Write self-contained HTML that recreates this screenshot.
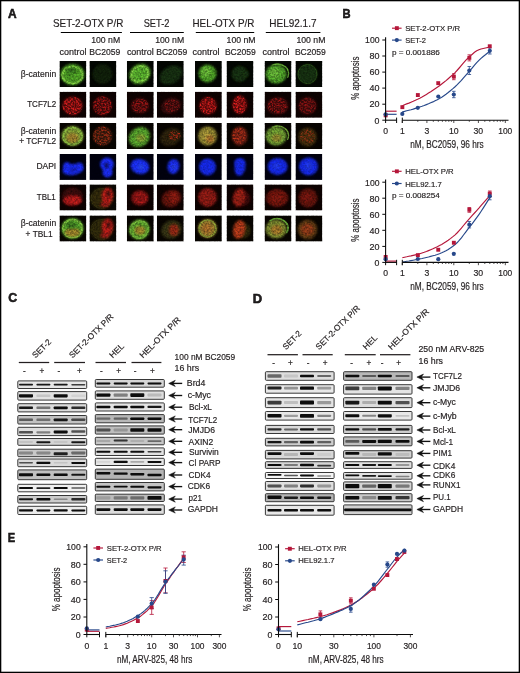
<!DOCTYPE html>
<html><head><meta charset="utf-8"><title>Figure</title>
<style>
html,body{margin:0;padding:0;background:#fff;}
body{width:520px;height:673px;overflow:hidden;font-family:"Liberation Sans",sans-serif;}
svg{display:block;position:absolute;left:0;top:0;font-family:"Liberation Sans",sans-serif;will-change:transform;opacity:0.999;}
svg text{fill:#231f20;stroke:#231f20;stroke-width:0.18px;}
</style></head><body>
<svg width="520" height="673" viewBox="0 0 520 673">
<defs>
<filter id="cb" x="-30%" y="-30%" width="160%" height="160%"><feGaussianBlur stdDeviation="0.9"/></filter>
<filter id="cbs" x="-30%" y="-30%" width="160%" height="160%"><feGaussianBlur stdDeviation="0.55"/></filter>
<filter id="bb" x="-20%" y="-60%" width="140%" height="220%"><feGaussianBlur stdDeviation="0.42"/></filter>
<filter id="bbw" x="-20%" y="-60%" width="140%" height="220%"><feGaussianBlur stdDeviation="0.7"/></filter>
<filter id="sp" x="-30%" y="-30%" width="160%" height="160%"><feGaussianBlur stdDeviation="0.7" result="b"/><feTurbulence type="fractalNoise" baseFrequency="0.6" numOctaves="2" seed="11" result="n"/><feColorMatrix in="n" type="matrix" values="0 0 0 0 1  0 0 0 0 1  0 0 0 0 1  3.6 0 0 0 -1.45" result="a"/><feComposite in="b" in2="a" operator="in"/></filter>
<filter id="gr" x="0" y="0" width="100%" height="100%"><feTurbulence type="fractalNoise" baseFrequency="0.55" numOctaves="2" seed="7"/><feColorMatrix type="matrix" values="0 0 0 0 0  0 0 0 0 0  0 0 0 0 0  1.6 0 0 0 -0.45"/></filter>
</defs>
<rect x="0.5" y="0.5" width="519" height="672" fill="#fff" stroke="#000" stroke-width="1.6"/>
<text x="8.0" y="17.8" font-size="12.5" textLength="8.6" lengthAdjust="spacingAndGlyphs" font-weight="bold" fill="#000" style="stroke:#000;stroke-width:0.5px">A</text>
<text x="53.0" y="27.1" font-size="10.3" textLength="70.3" lengthAdjust="spacingAndGlyphs">SET-2-OTX P/R</text>
<text x="143.7" y="27.1" font-size="10.3" textLength="25.7" lengthAdjust="spacingAndGlyphs">SET-2</text>
<text x="192.5" y="27.1" font-size="10.3" textLength="61.8" lengthAdjust="spacingAndGlyphs">HEL-OTX P/R</text>
<text x="269.3" y="27.1" font-size="10.3" textLength="47.2" lengthAdjust="spacingAndGlyphs">HEL92.1.7</text>
<line x1="60.8" y1="32.5" x2="121.9" y2="32.5" stroke="#000" stroke-width="1.1"/>
<line x1="130.0" y1="32.5" x2="183.8" y2="32.5" stroke="#000" stroke-width="1.1"/>
<line x1="195.8" y1="32.5" x2="254.2" y2="32.5" stroke="#000" stroke-width="1.1"/>
<line x1="265.8" y1="32.5" x2="320.4" y2="32.5" stroke="#000" stroke-width="1.1"/>
<text x="91.2" y="43.3" font-size="8.6" textLength="29.0" lengthAdjust="spacingAndGlyphs">100 nM</text>
<text x="155.2" y="43.3" font-size="8.6" textLength="29.0" lengthAdjust="spacingAndGlyphs">100 nM</text>
<text x="226.6" y="43.3" font-size="8.6" textLength="29.0" lengthAdjust="spacingAndGlyphs">100 nM</text>
<text x="296.4" y="43.3" font-size="8.6" textLength="29.0" lengthAdjust="spacingAndGlyphs">100 nM</text>
<text x="59.6" y="55.0" font-size="8.6" textLength="26.9" lengthAdjust="spacingAndGlyphs">control</text>
<text x="126.9" y="55.0" font-size="8.6" textLength="26.9" lengthAdjust="spacingAndGlyphs">control</text>
<text x="192.6" y="55.0" font-size="8.6" textLength="26.9" lengthAdjust="spacingAndGlyphs">control</text>
<text x="262.6" y="55.0" font-size="8.6" textLength="26.9" lengthAdjust="spacingAndGlyphs">control</text>
<text x="89.3" y="55.0" font-size="8.6" textLength="31.0" lengthAdjust="spacingAndGlyphs">BC2059</text>
<text x="156.2" y="55.0" font-size="8.6" textLength="31.0" lengthAdjust="spacingAndGlyphs">BC2059</text>
<text x="224.9" y="55.0" font-size="8.6" textLength="31.0" lengthAdjust="spacingAndGlyphs">BC2059</text>
<text x="294.9" y="55.0" font-size="8.6" textLength="31.0" lengthAdjust="spacingAndGlyphs">BC2059</text>
<text x="20.8" y="77.2" font-size="8.6" textLength="35.4" lengthAdjust="spacingAndGlyphs">β-catenin</text>
<text x="27.2" y="107.4" font-size="8.6" textLength="29.0" lengthAdjust="spacingAndGlyphs">TCF7L2</text>
<text x="20.8" y="133.7" font-size="8.6" textLength="35.4" lengthAdjust="spacingAndGlyphs">β-catenin</text>
<text x="19.2" y="144.3" font-size="8.6" textLength="37.0" lengthAdjust="spacingAndGlyphs">+ TCF7L2</text>
<text x="36.4" y="169.2" font-size="8.6" textLength="19.8" lengthAdjust="spacingAndGlyphs">DAPI</text>
<text x="36.8" y="200.1" font-size="8.6" textLength="19.0" lengthAdjust="spacingAndGlyphs">TBL1</text>
<text x="20.8" y="226.0" font-size="8.6" textLength="35.4" lengthAdjust="spacingAndGlyphs">β-catenin</text>
<text x="25.6" y="236.5" font-size="8.6" textLength="27.0" lengthAdjust="spacingAndGlyphs">+ TBL1</text>
<g id="tiles">
<clipPath id="tc00"><rect x="59.5" y="61.0" width="26.8" height="26.0"/></clipPath>
<g clip-path="url(#tc00)"><rect x="59.5" y="61.0" width="26.8" height="26.0" fill="#040803"/>
<ellipse cx="72.5" cy="74.5" rx="12" ry="10.5" fill="#58b42c" filter="url(#cb)"/>
<ellipse cx="72.5" cy="75.0" rx="10" ry="8.5" fill="none" stroke="#8be04a" stroke-width="2.2" opacity="0.9" filter="url(#cbs)"/>
<ellipse cx="71.5" cy="70.5" rx="6" ry="3" fill="#3a8020" opacity="0.85" filter="url(#cb)"/>
<rect x="59.5" y="61.0" width="26.8" height="26.0" fill="#040803" filter="url(#gr)" opacity="0.55"/>
</g>
<clipPath id="tc01"><rect x="89.5" y="61.0" width="26.8" height="26.0"/></clipPath>
<g clip-path="url(#tc01)"><rect x="89.5" y="61.0" width="26.8" height="26.0" fill="#040803"/>
<ellipse cx="102.5" cy="74.0" rx="10" ry="10" fill="#152c0c" opacity="0.85" filter="url(#cb)"/>
<rect x="89.5" y="61.0" width="26.8" height="26.0" fill="#040803" filter="url(#gr)" opacity="0.55"/>
</g>
<clipPath id="tc02"><rect x="126.9" y="61.0" width="26.8" height="26.0"/></clipPath>
<g clip-path="url(#tc02)"><rect x="126.9" y="61.0" width="26.8" height="26.0" fill="#040803"/>
<ellipse cx="139.9" cy="74.0" rx="11" ry="9.5" fill="#62c230" transform="rotate(-35 139.9 74.0)" filter="url(#cb)"/>
<ellipse cx="139.9" cy="74.0" rx="9" ry="7.5" fill="none" stroke="#93e650" stroke-width="2" opacity="0.8" transform="rotate(-35 139.9 74.0)" filter="url(#cbs)"/>
<rect x="126.9" y="61.0" width="26.8" height="26.0" fill="#040803" filter="url(#gr)" opacity="0.55"/>
</g>
<clipPath id="tc03"><rect x="156.9" y="61.0" width="26.8" height="26.0"/></clipPath>
<g clip-path="url(#tc03)"><rect x="156.9" y="61.0" width="26.8" height="26.0" fill="#040803"/>
<ellipse cx="170.9" cy="75.0" rx="12" ry="8.5" fill="#1d3a15" opacity="0.9" transform="rotate(-30 170.9 75.0)" filter="url(#cb)"/>
<rect x="156.9" y="61.0" width="26.8" height="26.0" fill="#040803" filter="url(#gr)" opacity="0.55"/>
</g>
<clipPath id="tc04"><rect x="195.0" y="61.0" width="26.8" height="26.0"/></clipPath>
<g clip-path="url(#tc04)"><rect x="195.0" y="61.0" width="26.8" height="26.0" fill="#040803"/>
<ellipse cx="207.5" cy="73.5" rx="9" ry="9" fill="#55b02c" filter="url(#cb)"/>
<ellipse cx="206.0" cy="72.0" rx="5" ry="5" fill="#7ed444" opacity="0.7" filter="url(#cb)"/>
<rect x="195.0" y="61.0" width="26.8" height="26.0" fill="#040803" filter="url(#gr)" opacity="0.55"/>
</g>
<clipPath id="tc05"><rect x="226.6" y="61.0" width="26.8" height="26.0"/></clipPath>
<g clip-path="url(#tc05)"><rect x="226.6" y="61.0" width="26.8" height="26.0" fill="#040803"/>
<ellipse cx="239.6" cy="74.0" rx="8" ry="8" fill="#1d3d12" opacity="0.9" filter="url(#cb)"/>
<ellipse cx="246.6" cy="74.0" rx="2.5" ry="3" fill="#1d3d12" opacity="0.8" filter="url(#cb)"/>
<rect x="226.6" y="61.0" width="26.8" height="26.0" fill="#040803" filter="url(#gr)" opacity="0.55"/>
</g>
<clipPath id="tc06"><rect x="264.6" y="61.0" width="26.8" height="26.0"/></clipPath>
<g clip-path="url(#tc06)"><rect x="264.6" y="61.0" width="26.8" height="26.0" fill="#040803"/>
<ellipse cx="276.1" cy="74.0" rx="10.5" ry="9.5" fill="#58b42e" filter="url(#cb)"/>
<ellipse cx="277.6" cy="73.5" rx="11" ry="9.5" fill="none" stroke="#7ed444" stroke-width="1.3" stroke-dasharray="27 37.6" stroke-dashoffset="-42" opacity="0.85" filter="url(#cbs)"/>
<ellipse cx="274.6" cy="73.0" rx="5" ry="5" fill="#84d84a" opacity="0.6" filter="url(#cb)"/>
<rect x="264.6" y="61.0" width="26.8" height="26.0" fill="#040803" filter="url(#gr)" opacity="0.55"/>
</g>
<clipPath id="tc07"><rect x="295.5" y="61.0" width="26.8" height="26.0"/></clipPath>
<g clip-path="url(#tc07)"><rect x="295.5" y="61.0" width="26.8" height="26.0" fill="#040803"/>
<ellipse cx="307.5" cy="74.0" rx="10" ry="10" fill="#1e3d13" opacity="0.9" filter="url(#cb)"/>
<ellipse cx="307.5" cy="74.0" rx="9.5" ry="9.5" fill="none" stroke="#376a20" stroke-width="1.0" opacity="0.8" filter="url(#cbs)"/>
<rect x="295.5" y="61.0" width="26.8" height="26.0" fill="#040803" filter="url(#gr)" opacity="0.55"/>
</g>
<clipPath id="tc10"><rect x="59.5" y="91.8" width="26.8" height="26.0"/></clipPath>
<g clip-path="url(#tc10)"><rect x="59.5" y="91.8" width="26.8" height="26.0" fill="#100302"/>
<ellipse cx="72.5" cy="105.8" rx="10.5" ry="9.5" fill="#6a0e0e" filter="url(#cb)"/>
<ellipse cx="72.5" cy="105.8" rx="10" ry="9" fill="#f02020" filter="url(#sp)"/>
<rect x="59.5" y="91.8" width="26.8" height="26.0" fill="#100302" filter="url(#gr)" opacity="0.55"/>
</g>
<clipPath id="tc11"><rect x="89.5" y="91.8" width="26.8" height="26.0"/></clipPath>
<g clip-path="url(#tc11)"><rect x="89.5" y="91.8" width="26.8" height="26.0" fill="#100302"/>
<ellipse cx="102.5" cy="105.8" rx="10" ry="10" fill="#480a0a" filter="url(#cb)"/>
<ellipse cx="102.5" cy="105.8" rx="9.5" ry="9.5" fill="#e41e1e" opacity="0.8" filter="url(#sp)"/>
<rect x="89.5" y="91.8" width="26.8" height="26.0" fill="#100302" filter="url(#gr)" opacity="0.55"/>
</g>
<clipPath id="tc12"><rect x="126.9" y="91.8" width="26.8" height="26.0"/></clipPath>
<g clip-path="url(#tc12)"><rect x="126.9" y="91.8" width="26.8" height="26.0" fill="#100302"/>
<ellipse cx="139.9" cy="105.8" rx="9.5" ry="8" fill="#480a0a" filter="url(#cb)"/>
<ellipse cx="140.4" cy="105.8" rx="8.5" ry="7" fill="#dc1c1c" opacity="0.7" filter="url(#sp)"/>
<rect x="126.9" y="91.8" width="26.8" height="26.0" fill="#100302" filter="url(#gr)" opacity="0.55"/>
</g>
<clipPath id="tc13"><rect x="156.9" y="91.8" width="26.8" height="26.0"/></clipPath>
<g clip-path="url(#tc13)"><rect x="156.9" y="91.8" width="26.8" height="26.0" fill="#100302"/>
<ellipse cx="170.9" cy="105.8" rx="10.5" ry="8" fill="#3e0909" transform="rotate(-20 170.9 105.8)" filter="url(#cb)"/>
<ellipse cx="171.9" cy="105.8" rx="8" ry="6.5" fill="#c81a1a" opacity="0.6" filter="url(#sp)"/>
<rect x="156.9" y="91.8" width="26.8" height="26.0" fill="#100302" filter="url(#gr)" opacity="0.55"/>
</g>
<clipPath id="tc14"><rect x="195.0" y="91.8" width="26.8" height="26.0"/></clipPath>
<g clip-path="url(#tc14)"><rect x="195.0" y="91.8" width="26.8" height="26.0" fill="#100302"/>
<ellipse cx="208.0" cy="105.8" rx="9" ry="9" fill="#741010" filter="url(#cb)"/>
<ellipse cx="208.0" cy="105.8" rx="8.5" ry="8.5" fill="#ee2020" filter="url(#sp)"/>
<rect x="195.0" y="91.8" width="26.8" height="26.0" fill="#100302" filter="url(#gr)" opacity="0.55"/>
</g>
<clipPath id="tc15"><rect x="226.6" y="91.8" width="26.8" height="26.0"/></clipPath>
<g clip-path="url(#tc15)"><rect x="226.6" y="91.8" width="26.8" height="26.0" fill="#100302"/>
<ellipse cx="239.6" cy="104.8" rx="7.5" ry="9.5" fill="#741010" filter="url(#cb)"/>
<ellipse cx="239.6" cy="104.8" rx="7" ry="9" fill="#ee2020" filter="url(#sp)"/>
<rect x="226.6" y="91.8" width="26.8" height="26.0" fill="#100302" filter="url(#gr)" opacity="0.55"/>
</g>
<clipPath id="tc16"><rect x="264.6" y="91.8" width="26.8" height="26.0"/></clipPath>
<g clip-path="url(#tc16)"><rect x="264.6" y="91.8" width="26.8" height="26.0" fill="#100302"/>
<ellipse cx="277.6" cy="105.8" rx="11" ry="9" fill="#460a0a" filter="url(#cb)"/>
<ellipse cx="277.6" cy="105.8" rx="10" ry="8" fill="#d81c1c" opacity="0.7" filter="url(#sp)"/>
<rect x="264.6" y="91.8" width="26.8" height="26.0" fill="#100302" filter="url(#gr)" opacity="0.55"/>
</g>
<clipPath id="tc17"><rect x="295.5" y="91.8" width="26.8" height="26.0"/></clipPath>
<g clip-path="url(#tc17)"><rect x="295.5" y="91.8" width="26.8" height="26.0" fill="#100302"/>
<ellipse cx="307.5" cy="105.8" rx="9.5" ry="9" fill="#440a0a" filter="url(#cb)"/>
<ellipse cx="307.5" cy="105.8" rx="8.5" ry="8" fill="#d01b1b" opacity="0.65" filter="url(#sp)"/>
<rect x="295.5" y="91.8" width="26.8" height="26.0" fill="#100302" filter="url(#gr)" opacity="0.55"/>
</g>
<clipPath id="tc20"><rect x="59.5" y="123.0" width="26.8" height="26.0"/></clipPath>
<g clip-path="url(#tc20)"><rect x="59.5" y="123.0" width="26.8" height="26.0" fill="#0a0602"/>
<ellipse cx="72.5" cy="136.0" rx="11" ry="10" fill="#8fae3a" filter="url(#cb)"/>
<ellipse cx="72.5" cy="136.0" rx="9.5" ry="8.5" fill="none" stroke="#98d248" stroke-width="2" opacity="0.8" filter="url(#cbs)"/>
<ellipse cx="72.5" cy="138.0" rx="6" ry="5" fill="#c48a30" opacity="0.7" filter="url(#cb)"/>
<rect x="59.5" y="123.0" width="26.8" height="26.0" fill="#0a0602" filter="url(#gr)" opacity="0.55"/>
</g>
<clipPath id="tc21"><rect x="89.5" y="123.0" width="26.8" height="26.0"/></clipPath>
<g clip-path="url(#tc21)"><rect x="89.5" y="123.0" width="26.8" height="26.0" fill="#0a0602"/>
<ellipse cx="102.5" cy="136.0" rx="10" ry="10" fill="#3a1a0b" filter="url(#cb)"/>
<ellipse cx="102.5" cy="136.0" rx="9.5" ry="9.5" fill="#e03c1a" opacity="0.7" filter="url(#sp)"/>
<rect x="89.5" y="123.0" width="26.8" height="26.0" fill="#0a0602" filter="url(#gr)" opacity="0.55"/>
</g>
<clipPath id="tc22"><rect x="126.9" y="123.0" width="26.8" height="26.0"/></clipPath>
<g clip-path="url(#tc22)"><rect x="126.9" y="123.0" width="26.8" height="26.0" fill="#0a0602"/>
<ellipse cx="139.4" cy="137.0" rx="11" ry="9.5" fill="#62b832" transform="rotate(-35 139.4 137.0)" filter="url(#cb)"/>
<ellipse cx="140.9" cy="138.0" rx="5" ry="4" fill="#b4a23a" opacity="0.55" filter="url(#cb)"/>
<rect x="126.9" y="123.0" width="26.8" height="26.0" fill="#0a0602" filter="url(#gr)" opacity="0.55"/>
</g>
<clipPath id="tc23"><rect x="156.9" y="123.0" width="26.8" height="26.0"/></clipPath>
<g clip-path="url(#tc23)"><rect x="156.9" y="123.0" width="26.8" height="26.0" fill="#0a0602"/>
<ellipse cx="170.9" cy="137.0" rx="11" ry="8.5" fill="#33280e" transform="rotate(-25 170.9 137.0)" filter="url(#cb)"/>
<ellipse cx="174.4" cy="135.5" rx="6" ry="5" fill="#d8301c" opacity="0.9" filter="url(#sp)"/>
<rect x="156.9" y="123.0" width="26.8" height="26.0" fill="#0a0602" filter="url(#gr)" opacity="0.55"/>
</g>
<clipPath id="tc24"><rect x="195.0" y="123.0" width="26.8" height="26.0"/></clipPath>
<g clip-path="url(#tc24)"><rect x="195.0" y="123.0" width="26.8" height="26.0" fill="#0a0602"/>
<ellipse cx="207.5" cy="136.0" rx="9.5" ry="9.5" fill="#a69a38" filter="url(#cb)"/>
<ellipse cx="206.0" cy="135.0" rx="5" ry="5" fill="#c8b044" opacity="0.6" filter="url(#cb)"/>
<ellipse cx="210.0" cy="139.0" rx="4" ry="4" fill="#c46a2a" opacity="0.6" filter="url(#cb)"/>
<rect x="195.0" y="123.0" width="26.8" height="26.0" fill="#0a0602" filter="url(#gr)" opacity="0.55"/>
</g>
<clipPath id="tc25"><rect x="226.6" y="123.0" width="26.8" height="26.0"/></clipPath>
<g clip-path="url(#tc25)"><rect x="226.6" y="123.0" width="26.8" height="26.0" fill="#0a0602"/>
<ellipse cx="239.6" cy="136.0" rx="8" ry="9.5" fill="#7a2412" filter="url(#cb)"/>
<ellipse cx="239.1" cy="135.5" rx="7" ry="8.5" fill="#e8401c" opacity="0.65" filter="url(#sp)"/>
<rect x="226.6" y="123.0" width="26.8" height="26.0" fill="#0a0602" filter="url(#gr)" opacity="0.55"/>
</g>
<clipPath id="tc26"><rect x="264.6" y="123.0" width="26.8" height="26.0"/></clipPath>
<g clip-path="url(#tc26)"><rect x="264.6" y="123.0" width="26.8" height="26.0" fill="#0a0602"/>
<ellipse cx="276.1" cy="136.0" rx="10.5" ry="9.5" fill="#7cae38" filter="url(#cb)"/>
<ellipse cx="277.6" cy="135.5" rx="11" ry="9.5" fill="none" stroke="#8ed048" stroke-width="1.3" stroke-dasharray="27 37.6" stroke-dashoffset="-42" opacity="0.85" filter="url(#cbs)"/>
<ellipse cx="276.6" cy="138.0" rx="5" ry="4" fill="#b88a30" opacity="0.6" filter="url(#cb)"/>
<rect x="264.6" y="123.0" width="26.8" height="26.0" fill="#0a0602" filter="url(#gr)" opacity="0.55"/>
</g>
<clipPath id="tc27"><rect x="295.5" y="123.0" width="26.8" height="26.0"/></clipPath>
<g clip-path="url(#tc27)"><rect x="295.5" y="123.0" width="26.8" height="26.0" fill="#0a0602"/>
<ellipse cx="307.5" cy="137.0" rx="9.5" ry="9.5" fill="#46300f" filter="url(#cb)"/>
<ellipse cx="307.5" cy="136.5" rx="7.5" ry="7" fill="#d03a1a" opacity="0.6" filter="url(#sp)"/>
<rect x="295.5" y="123.0" width="26.8" height="26.0" fill="#0a0602" filter="url(#gr)" opacity="0.55"/>
</g>
<clipPath id="tc30"><rect x="59.5" y="153.9" width="26.8" height="26.0"/></clipPath>
<g clip-path="url(#tc30)"><rect x="59.5" y="153.9" width="26.8" height="26.0" fill="#020210"/>
<ellipse cx="73.0" cy="169.4" rx="10.5" ry="5.5" fill="#1a2eff" transform="rotate(-10 73.0 169.4)" filter="url(#cb)"/>
<ellipse cx="67.0" cy="166.4" rx="4" ry="4.5" fill="#1a2eff" opacity="0.95" filter="url(#cb)"/>
<ellipse cx="79.5" cy="166.4" rx="3.5" ry="4" fill="#1a2eff" opacity="0.9" filter="url(#cb)"/>
<ellipse cx="73.5" cy="169.9" rx="4" ry="2" fill="#0c1890" opacity="0.5" filter="url(#cb)"/>
<rect x="59.5" y="153.9" width="26.8" height="26.0" fill="#020210" filter="url(#gr)" opacity="0.3"/>
</g>
<clipPath id="tc31"><rect x="89.5" y="153.9" width="26.8" height="26.0"/></clipPath>
<g clip-path="url(#tc31)"><rect x="89.5" y="153.9" width="26.8" height="26.0" fill="#020210"/>
<ellipse cx="107.0" cy="164.4" rx="6.8" ry="6.8" fill="#1a2eff" filter="url(#cb)"/>
<ellipse cx="107.5" cy="172.4" rx="5" ry="5" fill="#1a2eff" filter="url(#cb)"/>
<ellipse cx="106.5" cy="165.4" rx="2.3" ry="3" fill="#081060" opacity="0.85" filter="url(#cb)"/>
<rect x="89.5" y="153.9" width="26.8" height="26.0" fill="#020210" filter="url(#gr)" opacity="0.3"/>
</g>
<clipPath id="tc32"><rect x="126.9" y="153.9" width="26.8" height="26.0"/></clipPath>
<g clip-path="url(#tc32)"><rect x="126.9" y="153.9" width="26.8" height="26.0" fill="#020210"/>
<ellipse cx="139.9" cy="166.4" rx="9.5" ry="7.5" fill="#1a30ff" transform="rotate(15 139.9 166.4)" filter="url(#cb)"/>
<ellipse cx="140.9" cy="166.9" rx="3" ry="2.5" fill="#3258f4" opacity="0.6" filter="url(#cb)"/>
<rect x="126.9" y="153.9" width="26.8" height="26.0" fill="#020210" filter="url(#gr)" opacity="0.3"/>
</g>
<clipPath id="tc33"><rect x="156.9" y="153.9" width="26.8" height="26.0"/></clipPath>
<g clip-path="url(#tc33)"><rect x="156.9" y="153.9" width="26.8" height="26.0" fill="#020210"/>
<ellipse cx="173.4" cy="166.4" rx="6" ry="7.5" fill="#1a2ef4" transform="rotate(10 173.4 166.4)" filter="url(#cb)"/>
<ellipse cx="173.9" cy="166.9" rx="2.5" ry="3" fill="#3050f0" opacity="0.5" filter="url(#cb)"/>
<rect x="156.9" y="153.9" width="26.8" height="26.0" fill="#020210" filter="url(#gr)" opacity="0.3"/>
</g>
<clipPath id="tc34"><rect x="195.0" y="153.9" width="26.8" height="26.0"/></clipPath>
<g clip-path="url(#tc34)"><rect x="195.0" y="153.9" width="26.8" height="26.0" fill="#020210"/>
<ellipse cx="207.5" cy="166.9" rx="8.5" ry="8.5" fill="#182cf0" filter="url(#cb)"/>
<rect x="195.0" y="153.9" width="26.8" height="26.0" fill="#020210" filter="url(#gr)" opacity="0.3"/>
</g>
<clipPath id="tc35"><rect x="226.6" y="153.9" width="26.8" height="26.0"/></clipPath>
<g clip-path="url(#tc35)"><rect x="226.6" y="153.9" width="26.8" height="26.0" fill="#020210"/>
<ellipse cx="240.1" cy="166.9" rx="5.5" ry="9" fill="#182cf0" transform="rotate(10 240.1 166.9)" filter="url(#cb)"/>
<ellipse cx="238.6" cy="162.9" rx="4.5" ry="4.5" fill="#182cf0" opacity="0.9" filter="url(#cb)"/>
<rect x="226.6" y="153.9" width="26.8" height="26.0" fill="#020210" filter="url(#gr)" opacity="0.3"/>
</g>
<clipPath id="tc36"><rect x="264.6" y="153.9" width="26.8" height="26.0"/></clipPath>
<g clip-path="url(#tc36)"><rect x="264.6" y="153.9" width="26.8" height="26.0" fill="#020210"/>
<ellipse cx="277.6" cy="166.4" rx="10" ry="8.5" fill="#182cf0" filter="url(#cb)"/>
<ellipse cx="276.6" cy="165.9" rx="4" ry="3" fill="#2d4cf0" opacity="0.5" filter="url(#cb)"/>
<rect x="264.6" y="153.9" width="26.8" height="26.0" fill="#020210" filter="url(#gr)" opacity="0.3"/>
</g>
<clipPath id="tc37"><rect x="295.5" y="153.9" width="26.8" height="26.0"/></clipPath>
<g clip-path="url(#tc37)"><rect x="295.5" y="153.9" width="26.8" height="26.0" fill="#020210"/>
<ellipse cx="308.5" cy="166.4" rx="9.5" ry="9" fill="#182cf0" filter="url(#cb)"/>
<ellipse cx="308.5" cy="165.9" rx="4" ry="4" fill="#2d4cf0" opacity="0.5" filter="url(#cb)"/>
<rect x="295.5" y="153.9" width="26.8" height="26.0" fill="#020210" filter="url(#gr)" opacity="0.3"/>
</g>
<clipPath id="tc40"><rect x="59.5" y="184.4" width="26.8" height="26.0"/></clipPath>
<g clip-path="url(#tc40)"><rect x="59.5" y="184.4" width="26.8" height="26.0" fill="#100302"/>
<ellipse cx="72.5" cy="196.4" rx="10.5" ry="9" fill="#420b09" filter="url(#cb)"/>
<ellipse cx="72.5" cy="200.4" rx="9.5" ry="5.2" fill="#c21c1a" filter="url(#cb)"/>
<ellipse cx="76.0" cy="200.4" rx="4" ry="2.3" fill="none" stroke="#e82a22" stroke-width="1.2" opacity="0.7" transform="rotate(-20 76.0 200.4)" filter="url(#cbs)"/>
<rect x="59.5" y="184.4" width="26.8" height="26.0" fill="#100302" filter="url(#gr)" opacity="0.55"/>
</g>
<clipPath id="tc41"><rect x="89.5" y="184.4" width="26.8" height="26.0"/></clipPath>
<g clip-path="url(#tc41)"><rect x="89.5" y="184.4" width="26.8" height="26.0" fill="#0d0a04"/>
<ellipse cx="101.5" cy="198.4" rx="11" ry="10.5" fill="#3a3010" opacity="0.95" filter="url(#cb)"/>
<ellipse cx="101.5" cy="198.4" rx="10.5" ry="10" fill="none" stroke="#4a4a18" stroke-width="0.8" opacity="0.7" filter="url(#cbs)"/>
<ellipse cx="107.5" cy="195.9" rx="5.8" ry="8.5" fill="#cc221c" transform="rotate(5 107.5 195.9)" filter="url(#cb)"/>
<ellipse cx="105.0" cy="204.4" rx="4.5" ry="2.8" fill="#b81e1a" opacity="0.85" filter="url(#cb)"/>
<ellipse cx="108.5" cy="193.9" rx="1.8" ry="3.2" fill="#3a0a08" opacity="0.9" transform="rotate(10 108.5 193.9)" filter="url(#cb)"/>
<rect x="89.5" y="184.4" width="26.8" height="26.0" fill="#0d0a04" filter="url(#gr)" opacity="0.55"/>
</g>
<clipPath id="tc42"><rect x="126.9" y="184.4" width="26.8" height="26.0"/></clipPath>
<g clip-path="url(#tc42)"><rect x="126.9" y="184.4" width="26.8" height="26.0" fill="#100302"/>
<ellipse cx="139.9" cy="197.9" rx="8.6" ry="7.6" fill="#9e1814" filter="url(#cb)"/>
<ellipse cx="140.9" cy="198.4" rx="5" ry="4" fill="none" stroke="#c4241d" stroke-width="1.2" opacity="0.6" filter="url(#cbs)"/>
<rect x="126.9" y="184.4" width="26.8" height="26.0" fill="#100302" filter="url(#gr)" opacity="0.55"/>
</g>
<clipPath id="tc43"><rect x="156.9" y="184.4" width="26.8" height="26.0"/></clipPath>
<g clip-path="url(#tc43)"><rect x="156.9" y="184.4" width="26.8" height="26.0" fill="#100302"/>
<ellipse cx="171.4" cy="198.4" rx="10" ry="8.5" fill="#701410" transform="rotate(-25 171.4 198.4)" filter="url(#cb)"/>
<ellipse cx="173.9" cy="197.4" rx="4.5" ry="5.5" fill="#aa2018" opacity="0.7" filter="url(#cb)"/>
<rect x="156.9" y="184.4" width="26.8" height="26.0" fill="#100302" filter="url(#gr)" opacity="0.55"/>
</g>
<clipPath id="tc44"><rect x="195.0" y="184.4" width="26.8" height="26.0"/></clipPath>
<g clip-path="url(#tc44)"><rect x="195.0" y="184.4" width="26.8" height="26.0" fill="#100302"/>
<ellipse cx="207.5" cy="197.4" rx="9.5" ry="9.5" fill="#971b14" filter="url(#cb)"/>
<ellipse cx="207.0" cy="197.4" rx="5" ry="5" fill="#af2418" opacity="0.5" filter="url(#cb)"/>
<rect x="195.0" y="184.4" width="26.8" height="26.0" fill="#100302" filter="url(#gr)" opacity="0.55"/>
</g>
<clipPath id="tc45"><rect x="226.6" y="184.4" width="26.8" height="26.0"/></clipPath>
<g clip-path="url(#tc45)"><rect x="226.6" y="184.4" width="26.8" height="26.0" fill="#100302"/>
<ellipse cx="241.6" cy="198.4" rx="9" ry="8" fill="#4f0d0a" opacity="0.9" filter="url(#cb)"/>
<ellipse cx="239.1" cy="197.4" rx="6" ry="9.5" fill="#a82016" transform="rotate(12 239.1 197.4)" filter="url(#cb)"/>
<rect x="226.6" y="184.4" width="26.8" height="26.0" fill="#100302" filter="url(#gr)" opacity="0.55"/>
</g>
<clipPath id="tc46"><rect x="264.6" y="184.4" width="26.8" height="26.0"/></clipPath>
<g clip-path="url(#tc46)"><rect x="264.6" y="184.4" width="26.8" height="26.0" fill="#100302"/>
<ellipse cx="277.1" cy="197.9" rx="11" ry="9" fill="#7a1611" filter="url(#cb)"/>
<ellipse cx="276.6" cy="198.4" rx="5" ry="4" fill="#a52216" opacity="0.5" filter="url(#cb)"/>
<rect x="264.6" y="184.4" width="26.8" height="26.0" fill="#100302" filter="url(#gr)" opacity="0.55"/>
</g>
<clipPath id="tc47"><rect x="295.5" y="184.4" width="26.8" height="26.0"/></clipPath>
<g clip-path="url(#tc47)"><rect x="295.5" y="184.4" width="26.8" height="26.0" fill="#100302"/>
<ellipse cx="308.0" cy="197.9" rx="9.5" ry="9.5" fill="#6e140f" filter="url(#cb)"/>
<ellipse cx="307.5" cy="197.4" rx="5" ry="4.5" fill="#9a1e16" opacity="0.5" filter="url(#cb)"/>
<rect x="295.5" y="184.4" width="26.8" height="26.0" fill="#100302" filter="url(#gr)" opacity="0.55"/>
</g>
<clipPath id="tc50"><rect x="59.5" y="215.5" width="26.8" height="26.0"/></clipPath>
<g clip-path="url(#tc50)"><rect x="59.5" y="215.5" width="26.8" height="26.0" fill="#0a0602"/>
<ellipse cx="72.5" cy="228.5" rx="11" ry="10.5" fill="#5cb02e" filter="url(#cb)"/>
<ellipse cx="72.5" cy="228.5" rx="9.5" ry="9" fill="none" stroke="#90dc48" stroke-width="2.2" opacity="0.85" filter="url(#cbs)"/>
<ellipse cx="72.5" cy="232.5" rx="8" ry="4.5" fill="#c08a2e" opacity="0.8" filter="url(#cb)"/>
<ellipse cx="71.5" cy="225.5" rx="5" ry="3.5" fill="#3c7c20" opacity="0.8" filter="url(#cb)"/>
<rect x="59.5" y="215.5" width="26.8" height="26.0" fill="#0a0602" filter="url(#gr)" opacity="0.55"/>
</g>
<clipPath id="tc51"><rect x="89.5" y="215.5" width="26.8" height="26.0"/></clipPath>
<g clip-path="url(#tc51)"><rect x="89.5" y="215.5" width="26.8" height="26.0" fill="#0d0a04"/>
<ellipse cx="101.5" cy="229.5" rx="11" ry="10.5" fill="#38300f" opacity="0.95" filter="url(#cb)"/>
<ellipse cx="101.5" cy="229.5" rx="10.5" ry="10" fill="none" stroke="#4a4a18" stroke-width="0.8" opacity="0.7" filter="url(#cbs)"/>
<ellipse cx="107.5" cy="227.0" rx="5.8" ry="8.5" fill="#cc221c" transform="rotate(5 107.5 227.0)" filter="url(#cb)"/>
<ellipse cx="105.0" cy="235.5" rx="4.5" ry="2.8" fill="#b81e1a" opacity="0.85" filter="url(#cb)"/>
<ellipse cx="108.5" cy="225.0" rx="1.8" ry="3.2" fill="#3a0a08" opacity="0.9" transform="rotate(10 108.5 225.0)" filter="url(#cb)"/>
<rect x="89.5" y="215.5" width="26.8" height="26.0" fill="#0d0a04" filter="url(#gr)" opacity="0.55"/>
</g>
<clipPath id="tc52"><rect x="126.9" y="215.5" width="26.8" height="26.0"/></clipPath>
<g clip-path="url(#tc52)"><rect x="126.9" y="215.5" width="26.8" height="26.0" fill="#0a0602"/>
<ellipse cx="139.4" cy="229.5" rx="10.5" ry="10" fill="#66b432" transform="rotate(-30 139.4 229.5)" filter="url(#cb)"/>
<ellipse cx="139.4" cy="229.5" rx="9" ry="8.5" fill="none" stroke="#8ad846" stroke-width="1.8" opacity="0.8" transform="rotate(-30 139.4 229.5)" filter="url(#cbs)"/>
<ellipse cx="139.9" cy="230.5" rx="5.5" ry="4.5" fill="#c0902e" opacity="0.8" filter="url(#cb)"/>
<rect x="126.9" y="215.5" width="26.8" height="26.0" fill="#0a0602" filter="url(#gr)" opacity="0.55"/>
</g>
<clipPath id="tc53"><rect x="156.9" y="215.5" width="26.8" height="26.0"/></clipPath>
<g clip-path="url(#tc53)"><rect x="156.9" y="215.5" width="26.8" height="26.0" fill="#0a0602"/>
<ellipse cx="171.4" cy="229.5" rx="10.5" ry="9" fill="#3c3a14" transform="rotate(-25 171.4 229.5)" filter="url(#cb)"/>
<ellipse cx="173.9" cy="230.0" rx="5" ry="6" fill="#b42a18" opacity="0.85" filter="url(#cb)"/>
<rect x="156.9" y="215.5" width="26.8" height="26.0" fill="#0a0602" filter="url(#gr)" opacity="0.55"/>
</g>
<clipPath id="tc54"><rect x="195.0" y="215.5" width="26.8" height="26.0"/></clipPath>
<g clip-path="url(#tc54)"><rect x="195.0" y="215.5" width="26.8" height="26.0" fill="#0a0602"/>
<ellipse cx="207.5" cy="228.5" rx="9.5" ry="9.5" fill="#a88a30" filter="url(#cb)"/>
<ellipse cx="207.5" cy="228.5" rx="8.5" ry="8.5" fill="none" stroke="#9cb83c" stroke-width="1.6" opacity="0.8" filter="url(#cbs)"/>
<ellipse cx="207.0" cy="228.5" rx="5" ry="5" fill="#c8702a" opacity="0.6" filter="url(#cb)"/>
<rect x="195.0" y="215.5" width="26.8" height="26.0" fill="#0a0602" filter="url(#gr)" opacity="0.55"/>
</g>
<clipPath id="tc55"><rect x="226.6" y="215.5" width="26.8" height="26.0"/></clipPath>
<g clip-path="url(#tc55)"><rect x="226.6" y="215.5" width="26.8" height="26.0" fill="#0a0602"/>
<ellipse cx="242.6" cy="230.5" rx="8" ry="8" fill="#3a3010" opacity="0.9" filter="url(#cb)"/>
<ellipse cx="239.1" cy="229.5" rx="6" ry="9.5" fill="#c6401c" transform="rotate(12 239.1 229.5)" filter="url(#cb)"/>
<rect x="226.6" y="215.5" width="26.8" height="26.0" fill="#0a0602" filter="url(#gr)" opacity="0.55"/>
</g>
<clipPath id="tc56"><rect x="264.6" y="215.5" width="26.8" height="26.0"/></clipPath>
<g clip-path="url(#tc56)"><rect x="264.6" y="215.5" width="26.8" height="26.0" fill="#0a0602"/>
<ellipse cx="276.1" cy="229.0" rx="10.5" ry="9.5" fill="#8a9a34" filter="url(#cb)"/>
<ellipse cx="277.1" cy="228.0" rx="11" ry="9.5" fill="none" stroke="#80d044" stroke-width="1.6" stroke-dasharray="30 34.6" stroke-dashoffset="-40" opacity="0.9" filter="url(#cbs)"/>
<ellipse cx="276.6" cy="230.0" rx="6" ry="5" fill="#c47a2c" opacity="0.7" filter="url(#cb)"/>
<rect x="264.6" y="215.5" width="26.8" height="26.0" fill="#0a0602" filter="url(#gr)" opacity="0.55"/>
</g>
<clipPath id="tc57"><rect x="295.5" y="215.5" width="26.8" height="26.0"/></clipPath>
<g clip-path="url(#tc57)"><rect x="295.5" y="215.5" width="26.8" height="26.0" fill="#0a0602"/>
<ellipse cx="307.5" cy="229.5" rx="9.8" ry="9.8" fill="#6a4216" filter="url(#cb)"/>
<ellipse cx="307.5" cy="229.5" rx="6.5" ry="6" fill="#b4401c" opacity="0.7" filter="url(#cb)"/>
<rect x="295.5" y="215.5" width="26.8" height="26.0" fill="#0a0602" filter="url(#gr)" opacity="0.55"/>
</g>
</g>
<text x="342.6" y="17.5" font-size="12.5" textLength="8.1" lengthAdjust="spacingAndGlyphs" font-weight="bold" fill="#000" style="stroke:#000;stroke-width:0.5px">B</text>
<polyline points="402.3,105.7 404.5,104.8 406.7,103.9 408.9,103.1 411.0,102.2 413.2,101.3 415.4,100.3 417.6,99.3 419.8,98.2 422.0,97.0 424.2,95.7 426.4,94.4 428.5,93.1 430.7,91.7 432.9,90.2 435.1,88.7 437.3,87.2 439.5,85.7 441.7,84.0 443.9,82.3 446.0,80.6 448.2,78.7 450.4,76.8 452.6,74.9 454.8,72.8 457.0,70.5 459.2,68.0 461.4,65.4 463.5,62.9 465.7,60.4 467.9,58.1 470.1,56.1 472.3,54.2 474.5,52.3 476.7,50.8 478.9,49.8 481.0,49.0 483.2,48.5 485.4,48.0 487.6,47.5 489.8,47.0" fill="none" stroke="#b5173a" stroke-width="1.15" stroke-linejoin="round"/>
<line x1="385.6" y1="111.2" x2="396.6" y2="111.2" stroke="#b5173a" stroke-width="1.15"/>
<polyline points="402.3,111.9 404.5,111.4 406.7,110.8 408.9,110.2 411.0,109.7 413.2,109.1 415.4,108.4 417.6,107.8 419.8,107.0 422.0,106.3 424.2,105.5 426.4,104.6 428.5,103.8 430.7,102.8 432.9,101.9 435.1,100.8 437.3,99.7 439.5,98.5 441.7,97.2 443.9,95.7 446.0,94.2 448.2,92.5 450.4,90.7 452.6,88.9 454.8,87.0 457.0,84.9 459.2,82.6 461.4,80.3 463.5,77.8 465.7,75.3 467.9,72.8 470.1,70.4 472.3,67.8 474.5,65.1 476.7,62.6 478.9,60.4 481.0,58.4 483.2,56.5 485.4,54.8 487.6,53.0 489.8,51.2" fill="none" stroke="#27488a" stroke-width="1.15" stroke-linejoin="round"/>
<line x1="385.6" y1="114.3" x2="396.6" y2="114.3" stroke="#27488a" stroke-width="1.15"/>
<line x1="453.8" y1="97.7" x2="453.8" y2="91.3" stroke="#27488a" stroke-width="0.8"/>
<line x1="452.0" y1="97.7" x2="455.6" y2="97.7" stroke="#27488a" stroke-width="0.8"/>
<line x1="452.0" y1="91.3" x2="455.6" y2="91.3" stroke="#27488a" stroke-width="0.8"/>
<line x1="469.3" y1="74.5" x2="469.3" y2="66.5" stroke="#27488a" stroke-width="0.8"/>
<line x1="467.5" y1="74.5" x2="471.1" y2="74.5" stroke="#27488a" stroke-width="0.8"/>
<line x1="467.5" y1="66.5" x2="471.1" y2="66.5" stroke="#27488a" stroke-width="0.8"/>
<line x1="453.8" y1="79.7" x2="453.8" y2="73.7" stroke="#b5173a" stroke-width="0.8"/>
<line x1="452.0" y1="79.7" x2="455.6" y2="79.7" stroke="#b5173a" stroke-width="0.8"/>
<line x1="452.0" y1="73.7" x2="455.6" y2="73.7" stroke="#b5173a" stroke-width="0.8"/>
<line x1="469.3" y1="60.9" x2="469.3" y2="54.8" stroke="#b5173a" stroke-width="0.8"/>
<line x1="467.5" y1="60.9" x2="471.1" y2="60.9" stroke="#b5173a" stroke-width="0.8"/>
<line x1="467.5" y1="54.8" x2="471.1" y2="54.8" stroke="#b5173a" stroke-width="0.8"/>
<line x1="489.8" y1="54.0" x2="489.8" y2="48.0" stroke="#27488a" stroke-width="0.8"/>
<line x1="488.0" y1="54.0" x2="491.6" y2="54.0" stroke="#27488a" stroke-width="0.8"/>
<line x1="488.0" y1="48.0" x2="491.6" y2="48.0" stroke="#27488a" stroke-width="0.8"/>
<rect x="400.4" y="105.2" width="3.9" height="3.9" fill="#b5173a"/>
<rect x="415.9" y="93.1" width="3.9" height="3.9" fill="#b5173a"/>
<rect x="436.3" y="81.2" width="3.9" height="3.9" fill="#b5173a"/>
<rect x="451.9" y="74.7" width="3.9" height="3.9" fill="#b5173a"/>
<rect x="467.4" y="55.9" width="3.9" height="3.9" fill="#b5173a"/>
<rect x="487.8" y="44.3" width="3.9" height="3.9" fill="#b5173a"/>
<rect x="383.7" y="113.4" width="3.9" height="3.9" fill="#b5173a"/>
<circle cx="402.3" cy="113.9" r="2.1" fill="#27488a"/>
<circle cx="417.8" cy="107.8" r="2.1" fill="#27488a"/>
<circle cx="438.3" cy="96.5" r="2.1" fill="#27488a"/>
<circle cx="453.8" cy="94.5" r="2.1" fill="#27488a"/>
<circle cx="469.3" cy="70.5" r="2.1" fill="#27488a"/>
<circle cx="489.8" cy="50.8" r="2.1" fill="#27488a"/>
<circle cx="385.6" cy="114.4" r="2.1" fill="#27488a"/>
<line x1="385.6" y1="37.2" x2="385.6" y2="120.7" stroke="#0a0a0a" stroke-width="1.1"/>
<line x1="382.3" y1="120.2" x2="385.6" y2="120.2" stroke="#0a0a0a" stroke-width="1.0"/>
<text x="374.6" y="123.5" font-size="8.8" textLength="4.9" lengthAdjust="spacingAndGlyphs">0</text>
<line x1="382.3" y1="104.2" x2="385.6" y2="104.2" stroke="#0a0a0a" stroke-width="1.0"/>
<text x="369.5" y="107.4" font-size="8.8" textLength="10.0" lengthAdjust="spacingAndGlyphs">20</text>
<line x1="382.3" y1="88.1" x2="385.6" y2="88.1" stroke="#0a0a0a" stroke-width="1.0"/>
<text x="369.5" y="91.4" font-size="8.8" textLength="10.0" lengthAdjust="spacingAndGlyphs">40</text>
<line x1="382.3" y1="72.1" x2="385.6" y2="72.1" stroke="#0a0a0a" stroke-width="1.0"/>
<text x="369.5" y="75.3" font-size="8.8" textLength="10.0" lengthAdjust="spacingAndGlyphs">60</text>
<line x1="382.3" y1="56.0" x2="385.6" y2="56.0" stroke="#0a0a0a" stroke-width="1.0"/>
<text x="369.5" y="59.3" font-size="8.8" textLength="10.0" lengthAdjust="spacingAndGlyphs">80</text>
<line x1="382.3" y1="40.0" x2="385.6" y2="40.0" stroke="#0a0a0a" stroke-width="1.0"/>
<text x="365.1" y="43.3" font-size="8.8" textLength="14.4" lengthAdjust="spacingAndGlyphs">100</text>
<line x1="385.2" y1="120.2" x2="396.6" y2="120.2" stroke="#0a0a0a" stroke-width="1.1"/>
<line x1="396.6" y1="117.6" x2="396.6" y2="123.0" stroke="#0a0a0a" stroke-width="1.0"/>
<line x1="402.3" y1="120.2" x2="508.5" y2="120.2" stroke="#0a0a0a" stroke-width="1.1"/>
<line x1="402.3" y1="117.6" x2="402.3" y2="123.0" stroke="#0a0a0a" stroke-width="1.0"/>
<line x1="385.6" y1="120.2" x2="385.6" y2="123.0" stroke="#0a0a0a" stroke-width="1.0"/>
<line x1="402.3" y1="120.2" x2="402.3" y2="123.0" stroke="#231f20" stroke-width="0.8"/>
<line x1="417.8" y1="120.2" x2="417.8" y2="121.8" stroke="#231f20" stroke-width="0.8"/>
<line x1="426.9" y1="120.2" x2="426.9" y2="123.0" stroke="#231f20" stroke-width="0.8"/>
<line x1="433.3" y1="120.2" x2="433.3" y2="121.8" stroke="#231f20" stroke-width="0.8"/>
<line x1="438.3" y1="120.2" x2="438.3" y2="121.8" stroke="#231f20" stroke-width="0.8"/>
<line x1="442.4" y1="120.2" x2="442.4" y2="121.8" stroke="#231f20" stroke-width="0.8"/>
<line x1="445.8" y1="120.2" x2="445.8" y2="121.8" stroke="#231f20" stroke-width="0.8"/>
<line x1="448.8" y1="120.2" x2="448.8" y2="121.8" stroke="#231f20" stroke-width="0.8"/>
<line x1="451.4" y1="120.2" x2="451.4" y2="121.8" stroke="#231f20" stroke-width="0.8"/>
<line x1="453.8" y1="120.2" x2="453.8" y2="123.0" stroke="#231f20" stroke-width="0.8"/>
<line x1="469.3" y1="120.2" x2="469.3" y2="121.8" stroke="#231f20" stroke-width="0.8"/>
<line x1="478.4" y1="120.2" x2="478.4" y2="123.0" stroke="#231f20" stroke-width="0.8"/>
<line x1="484.8" y1="120.2" x2="484.8" y2="121.8" stroke="#231f20" stroke-width="0.8"/>
<line x1="489.8" y1="120.2" x2="489.8" y2="121.8" stroke="#231f20" stroke-width="0.8"/>
<line x1="493.9" y1="120.2" x2="493.9" y2="121.8" stroke="#231f20" stroke-width="0.8"/>
<line x1="497.3" y1="120.2" x2="497.3" y2="121.8" stroke="#231f20" stroke-width="0.8"/>
<line x1="500.3" y1="120.2" x2="500.3" y2="121.8" stroke="#231f20" stroke-width="0.8"/>
<line x1="502.9" y1="120.2" x2="502.9" y2="121.8" stroke="#231f20" stroke-width="0.8"/>
<line x1="505.3" y1="120.2" x2="505.3" y2="123.0" stroke="#231f20" stroke-width="0.8"/>
<text x="383.2" y="134.2" font-size="8.8" textLength="4.8" lengthAdjust="spacingAndGlyphs">0</text>
<text x="399.9" y="134.2" font-size="8.8" textLength="4.8" lengthAdjust="spacingAndGlyphs">1</text>
<text x="424.5" y="134.2" font-size="8.8" textLength="4.8" lengthAdjust="spacingAndGlyphs">3</text>
<text x="448.9" y="134.2" font-size="8.8" textLength="9.7" lengthAdjust="spacingAndGlyphs">10</text>
<text x="473.5" y="134.2" font-size="8.8" textLength="9.7" lengthAdjust="spacingAndGlyphs">30</text>
<text x="498.3" y="134.2" font-size="8.8" textLength="14.0" lengthAdjust="spacingAndGlyphs">100</text>
<text x="410.2" y="148.4" font-size="10.2" textLength="73.5" lengthAdjust="spacingAndGlyphs">nM, BC2059, 96 hrs</text>
<text x="0" y="0" font-size="10.2" textLength="43.2" lengthAdjust="spacingAndGlyphs" transform="translate(358.7 99.8) rotate(-90)">% apoptosis</text>
<line x1="392.0" y1="28.2" x2="401.6" y2="28.2" stroke="#b5173a" stroke-width="1.15"/>
<rect x="394.9" y="26.2" width="3.9" height="3.9" fill="#b5173a"/>
<text x="405.2" y="31.3" font-size="8.0" textLength="55.0" lengthAdjust="spacingAndGlyphs">SET-2-OTX P/R</text>
<line x1="392.0" y1="40.1" x2="401.6" y2="40.1" stroke="#27488a" stroke-width="1.15"/>
<circle cx="396.8" cy="40.1" r="2.1" fill="#27488a"/>
<text x="405.2" y="43.2" font-size="8.0" textLength="20.8" lengthAdjust="spacingAndGlyphs">SET-2</text>
<text x="392.0" y="54.8" font-size="8.0" textLength="47.7" lengthAdjust="spacingAndGlyphs">p = 0.001886</text>
<polyline points="402.3,257.7 404.5,257.2 406.7,256.8 408.9,256.3 411.0,255.9 413.2,255.4 415.4,254.9 417.6,254.4 419.8,253.7 422.0,253.0 424.2,252.3 426.4,251.5 428.5,250.6 430.7,249.7 432.9,248.8 435.1,247.7 437.3,246.7 439.5,245.6 441.7,244.4 443.9,243.1 446.0,241.7 448.2,240.2 450.4,238.6 452.6,236.9 454.8,235.1 457.0,233.0 459.2,230.6 461.4,228.1 463.5,225.5 465.7,222.9 467.9,220.3 470.1,217.9 472.3,215.4 474.5,213.0 476.7,210.6 478.9,208.1 481.0,205.6 483.2,203.1 485.4,200.6 487.6,198.1 489.8,195.6" fill="none" stroke="#b5173a" stroke-width="1.15" stroke-linejoin="round"/>
<line x1="385.6" y1="261.1" x2="396.6" y2="261.1" stroke="#b5173a" stroke-width="1.15"/>
<polyline points="402.3,262.1 404.5,261.7 406.7,261.3 408.9,261.0 411.0,260.6 413.2,260.2 415.4,259.8 417.6,259.4 419.8,258.9 422.0,258.5 424.2,258.0 426.4,257.5 428.5,257.0 430.7,256.4 432.9,255.8 435.1,255.2 437.3,254.5 439.5,253.7 441.7,252.8 443.9,251.8 446.0,250.7 448.2,249.4 450.4,248.0 452.6,246.5 454.8,244.8 457.0,242.8 459.2,240.4 461.4,237.8 463.5,235.0 465.7,232.1 467.9,229.2 470.1,226.4 472.3,223.6 474.5,220.7 476.7,217.7 478.9,214.6 481.0,211.5 483.2,208.1 485.4,204.6 487.6,201.1 489.8,197.6" fill="none" stroke="#27488a" stroke-width="1.15" stroke-linejoin="round"/>
<line x1="469.3" y1="227.9" x2="469.3" y2="221.5" stroke="#27488a" stroke-width="0.8"/>
<line x1="467.5" y1="227.9" x2="471.1" y2="227.9" stroke="#27488a" stroke-width="0.8"/>
<line x1="467.5" y1="221.5" x2="471.1" y2="221.5" stroke="#27488a" stroke-width="0.8"/>
<line x1="469.3" y1="212.3" x2="469.3" y2="207.5" stroke="#b5173a" stroke-width="0.8"/>
<line x1="467.5" y1="212.3" x2="471.1" y2="212.3" stroke="#b5173a" stroke-width="0.8"/>
<line x1="467.5" y1="207.5" x2="471.1" y2="207.5" stroke="#b5173a" stroke-width="0.8"/>
<line x1="489.8" y1="199.8" x2="489.8" y2="193.4" stroke="#27488a" stroke-width="0.8"/>
<line x1="488.0" y1="199.8" x2="491.6" y2="199.8" stroke="#27488a" stroke-width="0.8"/>
<line x1="488.0" y1="193.4" x2="491.6" y2="193.4" stroke="#27488a" stroke-width="0.8"/>
<line x1="489.8" y1="196.6" x2="489.8" y2="191.0" stroke="#b5173a" stroke-width="0.8"/>
<line x1="488.0" y1="196.6" x2="491.6" y2="196.6" stroke="#b5173a" stroke-width="0.8"/>
<line x1="488.0" y1="191.0" x2="491.6" y2="191.0" stroke="#b5173a" stroke-width="0.8"/>
<rect x="415.9" y="253.2" width="3.9" height="3.9" fill="#b5173a"/>
<rect x="436.3" y="247.8" width="3.9" height="3.9" fill="#b5173a"/>
<rect x="451.9" y="240.8" width="3.9" height="3.9" fill="#b5173a"/>
<rect x="467.4" y="207.8" width="3.9" height="3.9" fill="#b5173a"/>
<rect x="487.8" y="191.6" width="3.9" height="3.9" fill="#b5173a"/>
<rect x="383.7" y="255.0" width="3.9" height="3.9" fill="#b5173a"/>
<circle cx="417.8" cy="259.0" r="2.1" fill="#27488a"/>
<circle cx="438.3" cy="259.2" r="2.1" fill="#27488a"/>
<circle cx="453.8" cy="253.8" r="2.1" fill="#27488a"/>
<circle cx="469.3" cy="224.7" r="2.1" fill="#27488a"/>
<circle cx="489.8" cy="196.2" r="2.1" fill="#27488a"/>
<circle cx="385.6" cy="259.2" r="2.1" fill="#27488a"/>
<line x1="385.6" y1="179.4" x2="385.6" y2="262.8" stroke="#0a0a0a" stroke-width="1.1"/>
<line x1="382.3" y1="262.4" x2="385.6" y2="262.4" stroke="#0a0a0a" stroke-width="1.0"/>
<text x="374.6" y="265.7" font-size="8.8" textLength="4.9" lengthAdjust="spacingAndGlyphs">0</text>
<line x1="382.3" y1="246.4" x2="385.6" y2="246.4" stroke="#0a0a0a" stroke-width="1.0"/>
<text x="369.5" y="249.6" font-size="8.8" textLength="10.0" lengthAdjust="spacingAndGlyphs">20</text>
<line x1="382.3" y1="230.3" x2="385.6" y2="230.3" stroke="#0a0a0a" stroke-width="1.0"/>
<text x="369.5" y="233.6" font-size="8.8" textLength="10.0" lengthAdjust="spacingAndGlyphs">40</text>
<line x1="382.3" y1="214.3" x2="385.6" y2="214.3" stroke="#0a0a0a" stroke-width="1.0"/>
<text x="369.5" y="217.5" font-size="8.8" textLength="10.0" lengthAdjust="spacingAndGlyphs">60</text>
<line x1="382.3" y1="198.2" x2="385.6" y2="198.2" stroke="#0a0a0a" stroke-width="1.0"/>
<text x="369.5" y="201.5" font-size="8.8" textLength="10.0" lengthAdjust="spacingAndGlyphs">80</text>
<line x1="382.3" y1="182.2" x2="385.6" y2="182.2" stroke="#0a0a0a" stroke-width="1.0"/>
<text x="365.1" y="185.5" font-size="8.8" textLength="14.4" lengthAdjust="spacingAndGlyphs">100</text>
<line x1="385.2" y1="262.4" x2="396.6" y2="262.4" stroke="#0a0a0a" stroke-width="1.1"/>
<line x1="396.6" y1="259.8" x2="396.6" y2="265.2" stroke="#0a0a0a" stroke-width="1.0"/>
<line x1="402.3" y1="262.4" x2="508.5" y2="262.4" stroke="#0a0a0a" stroke-width="1.1"/>
<line x1="402.3" y1="259.8" x2="402.3" y2="265.2" stroke="#0a0a0a" stroke-width="1.0"/>
<line x1="385.6" y1="262.4" x2="385.6" y2="265.2" stroke="#0a0a0a" stroke-width="1.0"/>
<line x1="402.3" y1="262.4" x2="402.3" y2="265.2" stroke="#231f20" stroke-width="0.8"/>
<line x1="417.8" y1="262.4" x2="417.8" y2="264.0" stroke="#231f20" stroke-width="0.8"/>
<line x1="426.9" y1="262.4" x2="426.9" y2="265.2" stroke="#231f20" stroke-width="0.8"/>
<line x1="433.3" y1="262.4" x2="433.3" y2="264.0" stroke="#231f20" stroke-width="0.8"/>
<line x1="438.3" y1="262.4" x2="438.3" y2="264.0" stroke="#231f20" stroke-width="0.8"/>
<line x1="442.4" y1="262.4" x2="442.4" y2="264.0" stroke="#231f20" stroke-width="0.8"/>
<line x1="445.8" y1="262.4" x2="445.8" y2="264.0" stroke="#231f20" stroke-width="0.8"/>
<line x1="448.8" y1="262.4" x2="448.8" y2="264.0" stroke="#231f20" stroke-width="0.8"/>
<line x1="451.4" y1="262.4" x2="451.4" y2="264.0" stroke="#231f20" stroke-width="0.8"/>
<line x1="453.8" y1="262.4" x2="453.8" y2="265.2" stroke="#231f20" stroke-width="0.8"/>
<line x1="469.3" y1="262.4" x2="469.3" y2="264.0" stroke="#231f20" stroke-width="0.8"/>
<line x1="478.4" y1="262.4" x2="478.4" y2="265.2" stroke="#231f20" stroke-width="0.8"/>
<line x1="484.8" y1="262.4" x2="484.8" y2="264.0" stroke="#231f20" stroke-width="0.8"/>
<line x1="489.8" y1="262.4" x2="489.8" y2="264.0" stroke="#231f20" stroke-width="0.8"/>
<line x1="493.9" y1="262.4" x2="493.9" y2="264.0" stroke="#231f20" stroke-width="0.8"/>
<line x1="497.3" y1="262.4" x2="497.3" y2="264.0" stroke="#231f20" stroke-width="0.8"/>
<line x1="500.3" y1="262.4" x2="500.3" y2="264.0" stroke="#231f20" stroke-width="0.8"/>
<line x1="502.9" y1="262.4" x2="502.9" y2="264.0" stroke="#231f20" stroke-width="0.8"/>
<line x1="505.3" y1="262.4" x2="505.3" y2="265.2" stroke="#231f20" stroke-width="0.8"/>
<text x="383.2" y="276.0" font-size="8.8" textLength="4.8" lengthAdjust="spacingAndGlyphs">0</text>
<text x="399.9" y="276.0" font-size="8.8" textLength="4.8" lengthAdjust="spacingAndGlyphs">1</text>
<text x="424.5" y="276.0" font-size="8.8" textLength="4.8" lengthAdjust="spacingAndGlyphs">3</text>
<text x="448.9" y="276.0" font-size="8.8" textLength="9.7" lengthAdjust="spacingAndGlyphs">10</text>
<text x="473.5" y="276.0" font-size="8.8" textLength="9.7" lengthAdjust="spacingAndGlyphs">30</text>
<text x="498.3" y="276.0" font-size="8.8" textLength="14.0" lengthAdjust="spacingAndGlyphs">100</text>
<text x="410.2" y="290.2" font-size="10.2" textLength="73.5" lengthAdjust="spacingAndGlyphs">nM, BC2059, 96 hrs</text>
<text x="0" y="0" font-size="10.2" textLength="43.2" lengthAdjust="spacingAndGlyphs" transform="translate(358.7 241.7) rotate(-90)">% apoptosis</text>
<line x1="392.0" y1="171.3" x2="401.6" y2="171.3" stroke="#b5173a" stroke-width="1.15"/>
<rect x="394.9" y="169.4" width="3.9" height="3.9" fill="#b5173a"/>
<text x="405.2" y="174.4" font-size="8.0" textLength="48.5" lengthAdjust="spacingAndGlyphs">HEL-OTX P/R</text>
<line x1="392.0" y1="183.5" x2="401.6" y2="183.5" stroke="#27488a" stroke-width="1.15"/>
<circle cx="396.8" cy="183.5" r="2.1" fill="#27488a"/>
<text x="405.2" y="186.6" font-size="8.0" textLength="36.5" lengthAdjust="spacingAndGlyphs">HEL92.1.7</text>
<text x="392.0" y="197.9" font-size="8.0" textLength="47.7" lengthAdjust="spacingAndGlyphs">p = 0.008254</text>
<text x="8.2" y="302.1" font-size="12.5" textLength="8.9" lengthAdjust="spacingAndGlyphs" font-weight="bold" fill="#000" style="stroke:#000;stroke-width:0.5px">C</text>
<text x="252.8" y="302.6" font-size="12.5" textLength="9.4" lengthAdjust="spacingAndGlyphs" font-weight="bold" fill="#000" style="stroke:#000;stroke-width:0.5px">D</text>
<text x="0" y="0" font-size="8.4" textLength="22.7" lengthAdjust="spacingAndGlyphs" transform="translate(35.6 358.6) rotate(-45)">SET-2</text>
<text x="0" y="0" font-size="8.4" textLength="58.5" lengthAdjust="spacingAndGlyphs" transform="translate(72.6 358.6) rotate(-45)">SET-2-OTX P/R</text>
<text x="0" y="0" font-size="8.4" textLength="16.5" lengthAdjust="spacingAndGlyphs" transform="translate(112.8 358.6) rotate(-45)">HEL</text>
<text x="0" y="0" font-size="8.4" textLength="54.0" lengthAdjust="spacingAndGlyphs" transform="translate(143.0 358.6) rotate(-45)">HEL-OTX P/R</text>
<line x1="18.8" y1="362.5" x2="49.2" y2="362.5" stroke="#231f20" stroke-width="1.25"/>
<line x1="54.2" y1="362.5" x2="85.0" y2="362.5" stroke="#231f20" stroke-width="1.25"/>
<line x1="95.5" y1="362.5" x2="126.0" y2="362.5" stroke="#231f20" stroke-width="1.25"/>
<line x1="131.5" y1="362.5" x2="161.4" y2="362.5" stroke="#231f20" stroke-width="1.25"/>
<text x="24.3" y="373.6" font-size="8.2" text-anchor="middle">-</text>
<text x="41.8" y="373.6" font-size="8.2" text-anchor="middle">+</text>
<text x="58.8" y="373.6" font-size="8.2" text-anchor="middle">-</text>
<text x="79.3" y="373.6" font-size="8.2" text-anchor="middle">+</text>
<text x="101.4" y="373.6" font-size="8.2" text-anchor="middle">-</text>
<text x="118.6" y="373.6" font-size="8.2" text-anchor="middle">+</text>
<text x="135.2" y="373.6" font-size="8.2" text-anchor="middle">-</text>
<text x="152.5" y="373.6" font-size="8.2" text-anchor="middle">+</text>
<text x="174.6" y="360.1" font-size="8.6" textLength="60.6" lengthAdjust="spacingAndGlyphs">100 nM BC2059</text>
<text x="174.6" y="371.4" font-size="8.6" textLength="24.5" lengthAdjust="spacingAndGlyphs">16 hrs</text>
<clipPath id="b17_380"><rect x="17.8" y="380.9" width="68.9" height="7.6" rx="1"/></clipPath>
<rect x="17.8" y="380.9" width="68.9" height="7.6" rx="1" fill="#e6e6e6"/>
<g clip-path="url(#b17_380)">
<rect x="19.0" y="383.8" width="14.0" height="1.8" rx="0.8" fill="#0c0c0c" opacity="0.95" filter="url(#bb)"/>
<rect x="36.4" y="383.8" width="14.0" height="1.8" rx="0.8" fill="#0c0c0c" opacity="0.95" filter="url(#bb)"/>
<rect x="53.7" y="383.8" width="14.0" height="1.8" rx="0.8" fill="#0c0c0c" opacity="0.95" filter="url(#bb)"/>
<rect x="71.3" y="383.9" width="14.0" height="1.6" rx="0.8" fill="#0c0c0c" opacity="0.78" filter="url(#bb)"/>
</g>
<rect x="17.8" y="380.9" width="68.9" height="7.6" rx="0.9" fill="none" stroke="#222" stroke-width="0.9"/>
<clipPath id="b17_391"><rect x="17.8" y="391.6" width="68.9" height="8.5" rx="1"/></clipPath>
<rect x="17.8" y="391.6" width="68.9" height="8.5" rx="1" fill="#e2e2e2"/>
<g clip-path="url(#b17_391)">
<rect x="19.0" y="394.2" width="14.0" height="3.2" rx="0.8" fill="#0c0c0c" opacity="1.00" filter="url(#bbw)"/>
<rect x="36.4" y="394.6" width="14.0" height="2.5" rx="0.8" fill="#0c0c0c" opacity="0.13" filter="url(#bb)"/>
<rect x="53.7" y="394.2" width="14.0" height="3.2" rx="0.8" fill="#0c0c0c" opacity="1.00" filter="url(#bbw)"/>
<rect x="71.3" y="394.6" width="14.0" height="2.5" rx="0.8" fill="#0c0c0c" opacity="0.07" filter="url(#bb)"/>
</g>
<rect x="17.8" y="391.6" width="68.9" height="8.5" rx="0.9" fill="none" stroke="#222" stroke-width="0.9"/>
<clipPath id="b17_403"><rect x="17.8" y="403.7" width="68.9" height="8.2" rx="1"/></clipPath>
<rect x="17.8" y="403.7" width="68.9" height="8.2" rx="1" fill="#dcdcdc"/>
<g clip-path="url(#b17_403)">
<rect x="19.0" y="406.5" width="14.0" height="2.6" rx="0.8" fill="#0c0c0c" opacity="0.95" filter="url(#bb)"/>
<rect x="36.4" y="406.6" width="14.0" height="2.4" rx="0.8" fill="#0c0c0c" opacity="0.50" filter="url(#bb)"/>
<rect x="53.7" y="406.4" width="14.0" height="2.8" rx="0.8" fill="#0c0c0c" opacity="1.00" filter="url(#bb)"/>
<rect x="71.3" y="406.6" width="14.0" height="2.4" rx="0.8" fill="#0c0c0c" opacity="0.84" filter="url(#bb)"/>
</g>
<rect x="17.8" y="403.7" width="68.9" height="8.2" rx="0.9" fill="none" stroke="#222" stroke-width="0.9"/>
<clipPath id="b17_415"><rect x="17.8" y="415.5" width="68.9" height="8.5" rx="1"/></clipPath>
<rect x="17.8" y="415.5" width="68.9" height="8.5" rx="1" fill="#c2c2c2"/>
<g clip-path="url(#b17_415)">
<rect x="19.0" y="418.4" width="14.0" height="2.6" rx="0.8" fill="#0c0c0c" opacity="0.56" filter="url(#bb)"/>
<rect x="36.4" y="418.6" width="14.0" height="2.4" rx="0.8" fill="#0c0c0c" opacity="0.45" filter="url(#bb)"/>
<rect x="53.7" y="418.4" width="14.0" height="2.8" rx="0.8" fill="#0c0c0c" opacity="0.95" filter="url(#bb)"/>
<rect x="71.3" y="418.4" width="14.0" height="2.6" rx="0.8" fill="#0c0c0c" opacity="0.67" filter="url(#bb)"/>
</g>
<rect x="17.8" y="415.5" width="68.9" height="8.5" rx="0.9" fill="none" stroke="#222" stroke-width="0.9"/>
<clipPath id="b17_427"><rect x="17.8" y="427.3" width="68.9" height="8.3" rx="1"/></clipPath>
<rect x="17.8" y="427.3" width="68.9" height="8.3" rx="1" fill="#dedede"/>
<g clip-path="url(#b17_427)">
<rect x="19.0" y="431.1" width="14.0" height="2.4" rx="0.8" fill="#0c0c0c" opacity="0.67" filter="url(#bb)"/>
<rect x="36.4" y="431.2" width="14.0" height="2.2" rx="0.8" fill="#0c0c0c" opacity="0.45" filter="url(#bb)"/>
<rect x="53.7" y="430.6" width="14.0" height="2.8" rx="0.8" fill="#0c0c0c" opacity="1.00" filter="url(#bb)"/>
<rect x="71.3" y="430.3" width="14.0" height="2.4" rx="0.8" fill="#0c0c0c" opacity="0.67" filter="url(#bb)"/>
</g>
<rect x="17.8" y="427.3" width="68.9" height="8.3" rx="0.9" fill="none" stroke="#222" stroke-width="0.9"/>
<clipPath id="b17_438"><rect x="17.8" y="438.5" width="68.9" height="6.8" rx="1"/></clipPath>
<rect x="17.8" y="438.5" width="68.9" height="6.8" rx="1" fill="#d6d6d6"/>
<g clip-path="url(#b17_438)">
<rect x="19.0" y="440.9" width="14.0" height="2.0" rx="0.8" fill="#0c0c0c" opacity="0.09" filter="url(#bb)"/>
<rect x="36.4" y="441.2" width="14.0" height="2.0" rx="0.8" fill="#0c0c0c" opacity="0.95" filter="url(#bb)"/>
<rect x="53.7" y="440.9" width="14.0" height="2.0" rx="0.8" fill="#0c0c0c" opacity="0.07" filter="url(#bb)"/>
<rect x="71.3" y="441.2" width="14.0" height="2.0" rx="0.8" fill="#0c0c0c" opacity="0.95" filter="url(#bb)"/>
</g>
<rect x="17.8" y="438.5" width="68.9" height="6.8" rx="0.9" fill="none" stroke="#222" stroke-width="0.9"/>
<clipPath id="b17_449"><rect x="17.8" y="449.2" width="68.9" height="7.5" rx="1"/></clipPath>
<rect x="17.8" y="449.2" width="68.9" height="7.5" rx="1" fill="#c8c8c8"/>
<g clip-path="url(#b17_449)">
<rect x="19.0" y="451.4" width="14.0" height="3.0" rx="0.8" fill="#0c0c0c" opacity="0.34" filter="url(#bb)"/>
<rect x="36.4" y="451.4" width="14.0" height="3.0" rx="0.8" fill="#0c0c0c" opacity="0.34" filter="url(#bb)"/>
<rect x="53.7" y="452.2" width="14.0" height="3.0" rx="0.8" fill="#0c0c0c" opacity="0.90" filter="url(#bb)"/>
<rect x="71.3" y="451.4" width="14.0" height="3.0" rx="0.8" fill="#0c0c0c" opacity="0.50" filter="url(#bb)"/>
</g>
<rect x="17.8" y="449.2" width="68.9" height="7.5" rx="0.9" fill="none" stroke="#222" stroke-width="0.9"/>
<clipPath id="b17_459"><rect x="17.8" y="459.0" width="68.9" height="7.7" rx="1"/></clipPath>
<rect x="17.8" y="459.0" width="68.9" height="7.7" rx="1" fill="#dadada"/>
<g clip-path="url(#b17_459)">
<rect x="19.0" y="462.1" width="14.0" height="1.5" rx="0.8" fill="#0c0c0c" opacity="0.67" filter="url(#bb)"/>
<rect x="36.4" y="461.8" width="14.0" height="2.2" rx="0.8" fill="#0c0c0c" opacity="1.00" filter="url(#bb)"/>
<rect x="53.7" y="462.1" width="14.0" height="1.5" rx="0.8" fill="#0c0c0c" opacity="0.11" filter="url(#bb)"/>
<rect x="71.3" y="461.9" width="14.0" height="2.0" rx="0.8" fill="#0c0c0c" opacity="1.00" filter="url(#bb)"/>
</g>
<rect x="17.8" y="459.0" width="68.9" height="7.7" rx="0.9" fill="none" stroke="#222" stroke-width="0.9"/>
<clipPath id="b17_469"><rect x="17.8" y="469.9" width="68.9" height="9.8" rx="1"/></clipPath>
<rect x="17.8" y="469.9" width="68.9" height="9.8" rx="1" fill="#c0c0c0"/>
<g clip-path="url(#b17_469)">
<rect x="19.0" y="473.3" width="14.0" height="3.0" rx="0.8" fill="#0c0c0c" opacity="1.00" filter="url(#bb)"/>
<rect x="36.4" y="473.6" width="14.0" height="2.4" rx="0.8" fill="#0c0c0c" opacity="1.00" filter="url(#bb)"/>
<rect x="53.7" y="473.6" width="14.0" height="2.4" rx="0.8" fill="#0c0c0c" opacity="1.00" filter="url(#bb)"/>
<rect x="71.3" y="473.8" width="14.0" height="2.0" rx="0.8" fill="#0c0c0c" opacity="0.95" filter="url(#bb)"/>
</g>
<rect x="17.8" y="469.9" width="68.9" height="9.8" rx="0.9" fill="none" stroke="#222" stroke-width="0.9"/>
<clipPath id="b17_484"><rect x="17.8" y="484.3" width="68.9" height="7.5" rx="1"/></clipPath>
<rect x="17.8" y="484.3" width="68.9" height="7.5" rx="1" fill="#f0f0f0"/>
<g clip-path="url(#b17_484)">
<rect x="19.0" y="487.1" width="14.0" height="2.0" rx="0.8" fill="#0c0c0c" opacity="1.00" filter="url(#bb)"/>
<rect x="36.4" y="487.2" width="14.0" height="1.8" rx="0.8" fill="#0c0c0c" opacity="0.90" filter="url(#bb)"/>
<rect x="53.7" y="487.1" width="14.0" height="2.0" rx="0.8" fill="#0c0c0c" opacity="1.00" filter="url(#bb)"/>
<rect x="71.3" y="487.2" width="14.0" height="1.6" rx="0.8" fill="#0c0c0c" opacity="0.67" filter="url(#bb)"/>
</g>
<rect x="17.8" y="484.3" width="68.9" height="7.5" rx="0.9" fill="none" stroke="#222" stroke-width="0.9"/>
<clipPath id="b17_495"><rect x="17.8" y="495.5" width="68.9" height="7.5" rx="1"/></clipPath>
<rect x="17.8" y="495.5" width="68.9" height="7.5" rx="1" fill="#cccccc"/>
<g clip-path="url(#b17_495)">
<rect x="19.0" y="498.2" width="14.0" height="2.0" rx="0.8" fill="#0c0c0c" opacity="0.95" filter="url(#bb)"/>
<rect x="36.4" y="498.1" width="14.0" height="2.4" rx="0.8" fill="#0c0c0c" opacity="1.00" filter="url(#bb)"/>
<rect x="53.7" y="498.4" width="14.0" height="1.6" rx="0.8" fill="#0c0c0c" opacity="0.34" filter="url(#bb)"/>
<rect x="71.3" y="498.1" width="14.0" height="2.4" rx="0.8" fill="#0c0c0c" opacity="0.84" filter="url(#bb)"/>
</g>
<rect x="17.8" y="495.5" width="68.9" height="7.5" rx="0.9" fill="none" stroke="#222" stroke-width="0.9"/>
<clipPath id="b17_506"><rect x="17.8" y="506.3" width="68.9" height="8.2" rx="1"/></clipPath>
<rect x="17.8" y="506.3" width="68.9" height="8.2" rx="1" fill="#ececec"/>
<g clip-path="url(#b17_506)">
<rect x="19.0" y="509.3" width="14.0" height="2.2" rx="0.8" fill="#0c0c0c" opacity="1.00" filter="url(#bb)"/>
<rect x="36.4" y="509.4" width="14.0" height="2.0" rx="0.8" fill="#0c0c0c" opacity="1.00" filter="url(#bb)"/>
<rect x="53.7" y="509.3" width="14.0" height="2.2" rx="0.8" fill="#0c0c0c" opacity="1.00" filter="url(#bb)"/>
<rect x="71.3" y="509.4" width="14.0" height="2.0" rx="0.8" fill="#0c0c0c" opacity="1.00" filter="url(#bb)"/>
</g>
<rect x="17.8" y="506.3" width="68.9" height="8.2" rx="0.9" fill="none" stroke="#222" stroke-width="0.9"/>
<clipPath id="b95_379"><rect x="95.3" y="379.5" width="69.0" height="7.7" rx="1"/></clipPath>
<rect x="95.3" y="379.5" width="69.0" height="7.7" rx="1" fill="#d6d6d6"/>
<g clip-path="url(#b95_379)">
<rect x="96.4" y="382.4" width="14.0" height="2.0" rx="0.8" fill="#0c0c0c" opacity="1.00" filter="url(#bb)"/>
<rect x="113.7" y="382.4" width="14.0" height="2.0" rx="0.8" fill="#0c0c0c" opacity="1.00" filter="url(#bb)"/>
<rect x="130.3" y="382.4" width="14.0" height="2.0" rx="0.8" fill="#0c0c0c" opacity="1.00" filter="url(#bb)"/>
<rect x="147.5" y="382.4" width="14.0" height="2.0" rx="0.8" fill="#0c0c0c" opacity="1.00" filter="url(#bb)"/>
</g>
<rect x="95.3" y="379.5" width="69.0" height="7.7" rx="0.9" fill="none" stroke="#222" stroke-width="0.9"/>
<clipPath id="b95_390"><rect x="95.3" y="390.9" width="69.0" height="8.4" rx="1"/></clipPath>
<rect x="95.3" y="390.9" width="69.0" height="8.4" rx="1" fill="#dedede"/>
<g clip-path="url(#b95_390)">
<rect x="96.4" y="393.4" width="14.0" height="3.4" rx="0.8" fill="#0c0c0c" opacity="1.00" filter="url(#bbw)"/>
<rect x="113.7" y="393.5" width="14.0" height="3.2" rx="0.8" fill="#0c0c0c" opacity="0.45" filter="url(#bbw)"/>
<rect x="130.3" y="393.3" width="14.0" height="3.6" rx="0.8" fill="#0c0c0c" opacity="1.00" filter="url(#bbw)"/>
<rect x="147.5" y="393.6" width="14.0" height="3.0" rx="0.8" fill="#0c0c0c" opacity="0.17" filter="url(#bb)"/>
</g>
<rect x="95.3" y="390.9" width="69.0" height="8.4" rx="0.9" fill="none" stroke="#222" stroke-width="0.9"/>
<clipPath id="b95_402"><rect x="95.3" y="402.9" width="69.0" height="8.1" rx="1"/></clipPath>
<rect x="95.3" y="402.9" width="69.0" height="8.1" rx="1" fill="#e4e4e4"/>
<g clip-path="url(#b95_402)">
<rect x="96.4" y="405.8" width="14.0" height="2.4" rx="0.8" fill="#0c0c0c" opacity="1.00" filter="url(#bb)"/>
<rect x="113.7" y="405.8" width="14.0" height="2.4" rx="0.8" fill="#0c0c0c" opacity="1.00" filter="url(#bb)"/>
<rect x="130.3" y="405.8" width="14.0" height="2.4" rx="0.8" fill="#0c0c0c" opacity="1.00" filter="url(#bb)"/>
<rect x="147.5" y="405.8" width="14.0" height="2.2" rx="0.8" fill="#0c0c0c" opacity="0.95" filter="url(#bb)"/>
</g>
<rect x="95.3" y="402.9" width="69.0" height="8.1" rx="0.9" fill="none" stroke="#222" stroke-width="0.9"/>
<clipPath id="b95_414"><rect x="95.3" y="414.6" width="69.0" height="8.2" rx="1"/></clipPath>
<rect x="95.3" y="414.6" width="69.0" height="8.2" rx="1" fill="#b8b8b8"/>
<g clip-path="url(#b95_414)">
<rect x="96.4" y="417.6" width="14.0" height="2.2" rx="0.8" fill="#0c0c0c" opacity="0.45" filter="url(#bb)"/>
<rect x="113.7" y="417.6" width="14.0" height="2.2" rx="0.8" fill="#0c0c0c" opacity="0.50" filter="url(#bb)"/>
<rect x="130.3" y="417.4" width="14.0" height="2.6" rx="0.8" fill="#0c0c0c" opacity="1.00" filter="url(#bb)"/>
<rect x="147.5" y="417.5" width="14.0" height="2.4" rx="0.8" fill="#0c0c0c" opacity="1.00" filter="url(#bb)"/>
</g>
<rect x="95.3" y="414.6" width="69.0" height="8.2" rx="0.9" fill="none" stroke="#222" stroke-width="0.9"/>
<clipPath id="b95_425"><rect x="95.3" y="425.9" width="69.0" height="8.2" rx="1"/></clipPath>
<rect x="95.3" y="425.9" width="69.0" height="8.2" rx="1" fill="#bebebe"/>
<g clip-path="url(#b95_425)">
<rect x="96.4" y="428.4" width="14.0" height="3.2" rx="0.8" fill="#0c0c0c" opacity="0.62" filter="url(#bbw)"/>
<rect x="113.7" y="428.5" width="14.0" height="3.0" rx="0.8" fill="#0c0c0c" opacity="0.22" filter="url(#bb)"/>
<rect x="130.3" y="428.2" width="14.0" height="3.6" rx="0.8" fill="#0c0c0c" opacity="1.00" filter="url(#bbw)"/>
<rect x="147.5" y="428.2" width="14.0" height="3.6" rx="0.8" fill="#0c0c0c" opacity="1.00" filter="url(#bbw)"/>
</g>
<rect x="95.3" y="425.9" width="69.0" height="8.2" rx="0.9" fill="none" stroke="#222" stroke-width="0.9"/>
<clipPath id="b95_437"><rect x="95.3" y="437.3" width="69.0" height="7.5" rx="1"/></clipPath>
<rect x="95.3" y="437.3" width="69.0" height="7.5" rx="1" fill="#c6c6c6"/>
<g clip-path="url(#b95_437)">
<rect x="96.4" y="440.2" width="14.0" height="1.6" rx="0.8" fill="#0c0c0c" opacity="0.22" filter="url(#bb)"/>
<rect x="113.7" y="439.4" width="14.0" height="2.2" rx="0.8" fill="#0c0c0c" opacity="0.78" filter="url(#bb)"/>
<rect x="130.3" y="440.2" width="14.0" height="1.6" rx="0.8" fill="#0c0c0c" opacity="0.17" filter="url(#bb)"/>
<rect x="147.5" y="440.2" width="14.0" height="1.8" rx="0.8" fill="#0c0c0c" opacity="0.50" filter="url(#bb)"/>
</g>
<rect x="95.3" y="437.3" width="69.0" height="7.5" rx="0.9" fill="none" stroke="#222" stroke-width="0.9"/>
<clipPath id="b95_447"><rect x="95.3" y="447.9" width="69.0" height="7.6" rx="1"/></clipPath>
<rect x="95.3" y="447.9" width="69.0" height="7.6" rx="1" fill="#e2e2e2"/>
<g clip-path="url(#b95_447)">
<rect x="96.4" y="450.7" width="14.0" height="2.0" rx="0.8" fill="#0c0c0c" opacity="1.00" filter="url(#bb)"/>
<rect x="113.7" y="450.7" width="14.0" height="2.0" rx="0.8" fill="#0c0c0c" opacity="1.00" filter="url(#bb)"/>
<rect x="130.3" y="450.7" width="14.0" height="2.0" rx="0.8" fill="#0c0c0c" opacity="1.00" filter="url(#bb)"/>
<rect x="147.5" y="450.9" width="14.0" height="1.6" rx="0.8" fill="#0c0c0c" opacity="0.78" filter="url(#bb)"/>
</g>
<rect x="95.3" y="447.9" width="69.0" height="7.6" rx="0.9" fill="none" stroke="#222" stroke-width="0.9"/>
<clipPath id="b95_458"><rect x="95.3" y="458.3" width="69.0" height="7.2" rx="1"/></clipPath>
<rect x="95.3" y="458.3" width="69.0" height="7.2" rx="1" fill="#e6e6e6"/>
<g clip-path="url(#b95_458)">
<rect x="96.4" y="461.1" width="14.0" height="1.6" rx="0.8" fill="#0c0c0c" opacity="0.07" filter="url(#bb)"/>
<rect x="113.7" y="460.7" width="14.0" height="2.4" rx="0.8" fill="#0c0c0c" opacity="1.00" filter="url(#bb)"/>
<rect x="130.3" y="461.1" width="14.0" height="1.6" rx="0.8" fill="#0c0c0c" opacity="0.28" filter="url(#bb)"/>
<rect x="147.5" y="460.9" width="14.0" height="2.0" rx="0.8" fill="#0c0c0c" opacity="1.00" filter="url(#bb)"/>
</g>
<rect x="95.3" y="458.3" width="69.0" height="7.2" rx="0.9" fill="none" stroke="#222" stroke-width="0.9"/>
<clipPath id="b95_469"><rect x="95.3" y="469.1" width="69.0" height="10.2" rx="1"/></clipPath>
<rect x="95.3" y="469.1" width="69.0" height="10.2" rx="1" fill="#b4b4b4"/>
<g clip-path="url(#b95_469)">
<rect x="96.4" y="472.0" width="14.0" height="2.4" rx="0.8" fill="#0c0c0c" opacity="1.00" filter="url(#bb)"/>
<rect x="113.7" y="472.6" width="14.0" height="2.2" rx="0.8" fill="#0c0c0c" opacity="1.00" filter="url(#bb)"/>
<rect x="130.3" y="473.0" width="14.0" height="2.4" rx="0.8" fill="#0c0c0c" opacity="1.00" filter="url(#bb)"/>
<rect x="147.5" y="473.8" width="14.0" height="2.4" rx="0.8" fill="#0c0c0c" opacity="1.00" filter="url(#bb)"/>
</g>
<rect x="95.3" y="469.1" width="69.0" height="10.2" rx="0.9" fill="none" stroke="#222" stroke-width="0.9"/>
<clipPath id="b95_482"><rect x="95.3" y="482.5" width="69.0" height="8.4" rx="1"/></clipPath>
<rect x="95.3" y="482.5" width="69.0" height="8.4" rx="1" fill="#c4c4c4"/>
<g clip-path="url(#b95_482)">
<rect x="96.4" y="485.7" width="14.0" height="2.0" rx="0.8" fill="#0c0c0c" opacity="1.00" filter="url(#bb)"/>
<rect x="113.7" y="485.8" width="14.0" height="1.8" rx="0.8" fill="#0c0c0c" opacity="1.00" filter="url(#bb)"/>
<rect x="130.3" y="485.7" width="14.0" height="2.0" rx="0.8" fill="#0c0c0c" opacity="1.00" filter="url(#bb)"/>
<rect x="147.5" y="486.2" width="14.0" height="2.2" rx="0.8" fill="#0c0c0c" opacity="1.00" filter="url(#bb)"/>
</g>
<rect x="95.3" y="482.5" width="69.0" height="8.4" rx="0.9" fill="none" stroke="#222" stroke-width="0.9"/>
<clipPath id="b95_494"><rect x="95.3" y="494.2" width="69.0" height="7.3" rx="1"/></clipPath>
<rect x="95.3" y="494.2" width="69.0" height="7.3" rx="1" fill="#bcbcbc"/>
<g clip-path="url(#b95_494)">
<rect x="96.4" y="496.2" width="14.0" height="3.2" rx="0.8" fill="#0c0c0c" opacity="0.17" filter="url(#bbw)"/>
<rect x="113.7" y="496.2" width="14.0" height="3.4" rx="0.8" fill="#0c0c0c" opacity="0.39" filter="url(#bbw)"/>
<rect x="130.3" y="496.2" width="14.0" height="3.4" rx="0.8" fill="#0c0c0c" opacity="0.45" filter="url(#bbw)"/>
<rect x="147.5" y="496.1" width="14.0" height="3.6" rx="0.8" fill="#0c0c0c" opacity="1.00" filter="url(#bbw)"/>
</g>
<rect x="95.3" y="494.2" width="69.0" height="7.3" rx="0.9" fill="none" stroke="#222" stroke-width="0.9"/>
<clipPath id="b95_504"><rect x="95.3" y="504.9" width="69.0" height="9.4" rx="1"/></clipPath>
<rect x="95.3" y="504.9" width="69.0" height="9.4" rx="1" fill="#dcdcdc"/>
<g clip-path="url(#b95_504)">
<rect x="96.4" y="508.3" width="14.0" height="2.6" rx="0.8" fill="#0c0c0c" opacity="1.00" filter="url(#bb)"/>
<rect x="113.7" y="508.3" width="14.0" height="2.6" rx="0.8" fill="#0c0c0c" opacity="1.00" filter="url(#bb)"/>
<rect x="130.3" y="508.3" width="14.0" height="2.6" rx="0.8" fill="#0c0c0c" opacity="1.00" filter="url(#bb)"/>
<rect x="147.5" y="508.3" width="14.0" height="2.6" rx="0.8" fill="#0c0c0c" opacity="1.00" filter="url(#bb)"/>
</g>
<rect x="95.3" y="504.9" width="69.0" height="9.4" rx="0.9" fill="none" stroke="#222" stroke-width="0.9"/>
<path d="M168.7 383.4L175.3 380.3L173.1 383.4L175.3 386.5Z" fill="#111" stroke="#111" stroke-width="0.5" stroke-linejoin="round"/>
<line x1="172.2" y1="383.4" x2="182.2" y2="383.4" stroke="#111" stroke-width="1.35"/>
<path d="M168.7 395.5L175.3 392.4L173.1 395.5L175.3 398.6Z" fill="#111" stroke="#111" stroke-width="0.5" stroke-linejoin="round"/>
<line x1="172.2" y1="395.5" x2="182.2" y2="395.5" stroke="#111" stroke-width="1.35"/>
<path d="M168.7 407.2L175.3 404.1L173.1 407.2L175.3 410.3Z" fill="#111" stroke="#111" stroke-width="0.5" stroke-linejoin="round"/>
<line x1="172.2" y1="407.2" x2="182.2" y2="407.2" stroke="#111" stroke-width="1.35"/>
<path d="M168.7 419.0L175.3 415.9L173.1 419.0L175.3 422.1Z" fill="#111" stroke="#111" stroke-width="0.5" stroke-linejoin="round"/>
<line x1="172.2" y1="419.0" x2="182.2" y2="419.0" stroke="#111" stroke-width="1.35"/>
<path d="M168.7 429.7L175.3 426.6L173.1 429.7L175.3 432.8Z" fill="#111" stroke="#111" stroke-width="0.5" stroke-linejoin="round"/>
<line x1="172.2" y1="429.7" x2="182.2" y2="429.7" stroke="#111" stroke-width="1.35"/>
<path d="M168.7 441.3L175.3 438.2L173.1 441.3L175.3 444.4Z" fill="#111" stroke="#111" stroke-width="0.5" stroke-linejoin="round"/>
<line x1="172.2" y1="441.3" x2="182.2" y2="441.3" stroke="#111" stroke-width="1.35"/>
<path d="M168.7 452.3L175.3 449.2L173.1 452.3L175.3 455.4Z" fill="#111" stroke="#111" stroke-width="0.5" stroke-linejoin="round"/>
<line x1="172.2" y1="452.3" x2="182.2" y2="452.3" stroke="#111" stroke-width="1.35"/>
<path d="M168.7 462.6L175.3 459.5L173.1 462.6L175.3 465.7Z" fill="#111" stroke="#111" stroke-width="0.5" stroke-linejoin="round"/>
<line x1="172.2" y1="462.6" x2="182.2" y2="462.6" stroke="#111" stroke-width="1.35"/>
<path d="M168.7 475.0L175.3 471.9L173.1 475.0L175.3 478.1Z" fill="#111" stroke="#111" stroke-width="0.5" stroke-linejoin="round"/>
<line x1="172.2" y1="475.0" x2="182.2" y2="475.0" stroke="#111" stroke-width="1.35"/>
<path d="M168.7 486.6L175.3 483.5L173.1 486.6L175.3 489.7Z" fill="#111" stroke="#111" stroke-width="0.5" stroke-linejoin="round"/>
<line x1="172.2" y1="486.6" x2="182.2" y2="486.6" stroke="#111" stroke-width="1.35"/>
<path d="M168.7 499.1L175.3 496.0L173.1 499.1L175.3 502.2Z" fill="#111" stroke="#111" stroke-width="0.5" stroke-linejoin="round"/>
<line x1="172.2" y1="499.1" x2="182.2" y2="499.1" stroke="#111" stroke-width="1.35"/>
<path d="M168.7 510.0L175.3 506.9L173.1 510.0L175.3 513.1Z" fill="#111" stroke="#111" stroke-width="0.5" stroke-linejoin="round"/>
<line x1="172.2" y1="510.0" x2="182.2" y2="510.0" stroke="#111" stroke-width="1.35"/>
<text x="186.8" y="386.2" font-size="8.8" textLength="18.5" lengthAdjust="spacingAndGlyphs">Brd4</text>
<text x="187.7" y="398.3" font-size="8.8" textLength="23.3" lengthAdjust="spacingAndGlyphs">c-Myc</text>
<text x="188.9" y="410.1" font-size="8.8" textLength="23.0" lengthAdjust="spacingAndGlyphs">Bcl-xL</text>
<text x="188.2" y="423.4" font-size="8.8" textLength="28.9" lengthAdjust="spacingAndGlyphs">TCF7L2</text>
<text x="188.2" y="432.9" font-size="8.8" textLength="26.8" lengthAdjust="spacingAndGlyphs">JMJD6</text>
<text x="188.6" y="444.5" font-size="8.8" textLength="24.7" lengthAdjust="spacingAndGlyphs">AXIN2</text>
<text x="188.9" y="455.1" font-size="8.8" textLength="29.9" lengthAdjust="spacingAndGlyphs">Survivin</text>
<text x="188.6" y="466.2" font-size="8.8" textLength="32.0" lengthAdjust="spacingAndGlyphs">Cl PARP</text>
<text x="188.6" y="477.8" font-size="8.8" textLength="22.1" lengthAdjust="spacingAndGlyphs">CDK4</text>
<text x="187.7" y="488.5" font-size="8.8" textLength="22.5" lengthAdjust="spacingAndGlyphs">CDK6</text>
<text x="188.6" y="501.2" font-size="8.8" textLength="13.4" lengthAdjust="spacingAndGlyphs">p21</text>
<text x="187.7" y="512.4" font-size="8.8" textLength="30.3" lengthAdjust="spacingAndGlyphs">GAPDH</text>
<text x="0" y="0" font-size="8.4" textLength="22.7" lengthAdjust="spacingAndGlyphs" transform="translate(286.0 350.2) rotate(-45)">SET-2</text>
<text x="0" y="0" font-size="8.4" textLength="58.5" lengthAdjust="spacingAndGlyphs" transform="translate(319.0 350.2) rotate(-45)">SET-2-OTX P/R</text>
<text x="0" y="0" font-size="8.4" textLength="16.5" lengthAdjust="spacingAndGlyphs" transform="translate(366.2 350.2) rotate(-45)">HEL</text>
<text x="0" y="0" font-size="8.4" textLength="54.0" lengthAdjust="spacingAndGlyphs" transform="translate(391.5 350.2) rotate(-45)">HEL-OTX P/R</text>
<line x1="267.5" y1="354.7" x2="297.9" y2="354.7" stroke="#231f20" stroke-width="1.25"/>
<line x1="302.5" y1="354.7" x2="332.7" y2="354.7" stroke="#231f20" stroke-width="1.25"/>
<line x1="344.8" y1="354.7" x2="375.7" y2="354.7" stroke="#231f20" stroke-width="1.25"/>
<line x1="380.0" y1="354.7" x2="410.4" y2="354.7" stroke="#231f20" stroke-width="1.25"/>
<text x="273.7" y="365.7" font-size="8.2" text-anchor="middle">-</text>
<text x="290.5" y="365.7" font-size="8.2" text-anchor="middle">+</text>
<text x="308.2" y="365.7" font-size="8.2" text-anchor="middle">-</text>
<text x="325.2" y="365.7" font-size="8.2" text-anchor="middle">+</text>
<text x="351.7" y="365.7" font-size="8.2" text-anchor="middle">-</text>
<text x="368.8" y="365.7" font-size="8.2" text-anchor="middle">+</text>
<text x="382.1" y="365.7" font-size="8.2" text-anchor="middle">-</text>
<text x="398.7" y="365.7" font-size="8.2" text-anchor="middle">+</text>
<text x="418.5" y="352.0" font-size="8.6" textLength="65.7" lengthAdjust="spacingAndGlyphs">250 nM ARV-825</text>
<text x="418.5" y="363.6" font-size="8.6" textLength="24.5" lengthAdjust="spacingAndGlyphs">16 hrs</text>
<clipPath id="b265_371"><rect x="265.4" y="371.7" width="68.7" height="8.6" rx="1"/></clipPath>
<rect x="265.4" y="371.7" width="68.7" height="8.6" rx="1" fill="#dedede"/>
<g clip-path="url(#b265_371)">
<rect x="267.5" y="374.3" width="14.0" height="3.4" rx="0.8" fill="#0c0c0c" opacity="0.56" filter="url(#bbw)"/>
<rect x="284.0" y="374.5" width="14.0" height="3.0" rx="0.8" fill="#0c0c0c" opacity="0.11" filter="url(#bb)"/>
<rect x="300.0" y="374.8" width="14.0" height="2.4" rx="0.8" fill="#0c0c0c" opacity="1.00" filter="url(#bb)"/>
<rect x="317.2" y="375.0" width="14.0" height="2.0" rx="0.8" fill="#0c0c0c" opacity="0.56" filter="url(#bb)"/>
</g>
<rect x="265.4" y="371.7" width="68.7" height="8.6" rx="0.9" fill="none" stroke="#222" stroke-width="0.9"/>
<clipPath id="b265_384"><rect x="265.4" y="384.7" width="68.7" height="8.5" rx="1"/></clipPath>
<rect x="265.4" y="384.7" width="68.7" height="8.5" rx="1" fill="#e8e8e8"/>
<g clip-path="url(#b265_384)">
<rect x="267.5" y="386.6" width="14.0" height="3.0" rx="0.8" fill="#0c0c0c" opacity="0.90" filter="url(#bb)"/>
<rect x="284.0" y="386.8" width="14.0" height="2.8" rx="0.8" fill="#0c0c0c" opacity="0.39" filter="url(#bb)"/>
<rect x="300.0" y="386.5" width="14.0" height="3.2" rx="0.8" fill="#0c0c0c" opacity="1.00" filter="url(#bbw)"/>
<rect x="317.2" y="386.8" width="14.0" height="2.8" rx="0.8" fill="#0c0c0c" opacity="0.34" filter="url(#bb)"/>
</g>
<rect x="265.4" y="384.7" width="68.7" height="8.5" rx="0.9" fill="none" stroke="#222" stroke-width="0.9"/>
<clipPath id="b265_397"><rect x="265.4" y="397.7" width="68.7" height="9.9" rx="1"/></clipPath>
<rect x="265.4" y="397.7" width="68.7" height="9.9" rx="1" fill="#e4e4e4"/>
<g clip-path="url(#b265_397)">
<rect x="267.5" y="400.8" width="14.0" height="3.6" rx="0.8" fill="#0c0c0c" opacity="0.78" filter="url(#bbw)"/>
<rect x="284.0" y="401.1" width="14.0" height="3.0" rx="0.8" fill="#0c0c0c" opacity="0.17" filter="url(#bb)"/>
<rect x="300.0" y="400.6" width="14.0" height="4.0" rx="0.8" fill="#0c0c0c" opacity="1.00" filter="url(#bbw)"/>
<rect x="317.2" y="401.0" width="14.0" height="3.2" rx="0.8" fill="#0c0c0c" opacity="0.34" filter="url(#bbw)"/>
</g>
<rect x="265.4" y="397.7" width="68.7" height="9.9" rx="0.9" fill="none" stroke="#222" stroke-width="0.9"/>
<clipPath id="b265_411"><rect x="265.4" y="411.5" width="68.7" height="8.6" rx="1"/></clipPath>
<rect x="265.4" y="411.5" width="68.7" height="8.6" rx="1" fill="#e8e8e8"/>
<g clip-path="url(#b265_411)">
<rect x="267.5" y="414.0" width="14.0" height="3.6" rx="0.8" fill="#0c0c0c" opacity="1.00" filter="url(#bbw)"/>
<rect x="284.0" y="414.7" width="14.0" height="2.2" rx="0.8" fill="#0c0c0c" opacity="0.34" filter="url(#bb)"/>
<rect x="300.0" y="413.9" width="14.0" height="3.8" rx="0.8" fill="#0c0c0c" opacity="1.00" filter="url(#bbw)"/>
<rect x="317.2" y="414.7" width="14.0" height="2.2" rx="0.8" fill="#0c0c0c" opacity="0.45" filter="url(#bb)"/>
</g>
<rect x="265.4" y="411.5" width="68.7" height="8.6" rx="0.9" fill="none" stroke="#222" stroke-width="0.9"/>
<clipPath id="b265_425"><rect x="265.4" y="425.4" width="68.7" height="8.1" rx="1"/></clipPath>
<rect x="265.4" y="425.4" width="68.7" height="8.1" rx="1" fill="#dadada"/>
<g clip-path="url(#b265_425)">
<rect x="267.5" y="428.3" width="14.0" height="2.2" rx="0.8" fill="#0c0c0c" opacity="0.84" filter="url(#bb)"/>
<rect x="284.0" y="428.4" width="14.0" height="2.0" rx="0.8" fill="#0c0c0c" opacity="0.56" filter="url(#bb)"/>
<rect x="300.0" y="428.2" width="14.0" height="2.4" rx="0.8" fill="#0c0c0c" opacity="1.00" filter="url(#bb)"/>
<rect x="317.2" y="428.3" width="14.0" height="2.2" rx="0.8" fill="#0c0c0c" opacity="0.67" filter="url(#bb)"/>
</g>
<rect x="265.4" y="425.4" width="68.7" height="8.1" rx="0.9" fill="none" stroke="#222" stroke-width="0.9"/>
<clipPath id="b265_438"><rect x="265.4" y="438.3" width="68.7" height="7.6" rx="1"/></clipPath>
<rect x="265.4" y="438.3" width="68.7" height="7.6" rx="1" fill="#cecece"/>
<g clip-path="url(#b265_438)">
<rect x="267.5" y="440.9" width="14.0" height="2.4" rx="0.8" fill="#0c0c0c" opacity="0.95" filter="url(#bb)"/>
<rect x="284.0" y="440.9" width="14.0" height="2.4" rx="0.8" fill="#0c0c0c" opacity="0.56" filter="url(#bb)"/>
<rect x="300.0" y="440.7" width="14.0" height="2.8" rx="0.8" fill="#0c0c0c" opacity="1.00" filter="url(#bb)"/>
<rect x="317.2" y="440.9" width="14.0" height="2.4" rx="0.8" fill="#0c0c0c" opacity="0.56" filter="url(#bb)"/>
</g>
<rect x="265.4" y="438.3" width="68.7" height="7.6" rx="0.9" fill="none" stroke="#222" stroke-width="0.9"/>
<clipPath id="b265_450"><rect x="265.4" y="450.4" width="68.7" height="8.5" rx="1"/></clipPath>
<rect x="265.4" y="450.4" width="68.7" height="8.5" rx="1" fill="#d8d8d8"/>
<g clip-path="url(#b265_450)">
<rect x="267.5" y="452.3" width="14.0" height="2.6" rx="0.8" fill="#0c0c0c" opacity="1.00" filter="url(#bb)"/>
<rect x="284.0" y="453.1" width="14.0" height="3.0" rx="0.8" fill="#0c0c0c" opacity="0.17" filter="url(#bb)"/>
<rect x="300.0" y="452.3" width="14.0" height="2.6" rx="0.8" fill="#0c0c0c" opacity="1.00" filter="url(#bb)"/>
<rect x="317.2" y="453.1" width="14.0" height="3.0" rx="0.8" fill="#0c0c0c" opacity="0.06" filter="url(#bb)"/>
</g>
<rect x="265.4" y="450.4" width="68.7" height="8.5" rx="0.9" fill="none" stroke="#222" stroke-width="0.9"/>
<clipPath id="b265_461"><rect x="265.4" y="461.7" width="68.7" height="6.7" rx="1"/></clipPath>
<rect x="265.4" y="461.7" width="68.7" height="6.7" rx="1" fill="#d6d6d6"/>
<g clip-path="url(#b265_461)">
<rect x="267.5" y="463.9" width="14.0" height="2.2" rx="0.8" fill="#0c0c0c" opacity="1.00" filter="url(#bb)"/>
<rect x="284.0" y="464.1" width="14.0" height="1.8" rx="0.8" fill="#0c0c0c" opacity="0.45" filter="url(#bb)"/>
<rect x="300.0" y="463.8" width="14.0" height="2.4" rx="0.8" fill="#0c0c0c" opacity="1.00" filter="url(#bb)"/>
<rect x="317.2" y="464.8" width="14.0" height="1.8" rx="0.8" fill="#0c0c0c" opacity="0.78" filter="url(#bb)"/>
</g>
<rect x="265.4" y="461.7" width="68.7" height="6.7" rx="0.9" fill="none" stroke="#222" stroke-width="0.9"/>
<clipPath id="b265_472"><rect x="265.4" y="472.5" width="68.7" height="6.0" rx="1"/></clipPath>
<rect x="265.4" y="472.5" width="68.7" height="6.0" rx="1" fill="#f6f6f6"/>
<g clip-path="url(#b265_472)">
<rect x="267.5" y="474.0" width="14.0" height="1.8" rx="0.8" fill="#0c0c0c" opacity="1.00" filter="url(#bb)"/>
<rect x="284.0" y="474.8" width="14.0" height="1.5" rx="0.8" fill="#0c0c0c" opacity="0.67" filter="url(#bb)"/>
<rect x="300.0" y="474.6" width="14.0" height="1.8" rx="0.8" fill="#0c0c0c" opacity="1.00" filter="url(#bb)"/>
<rect x="317.2" y="475.3" width="14.0" height="1.4" rx="0.8" fill="#0c0c0c" opacity="0.45" filter="url(#bb)"/>
</g>
<rect x="265.4" y="472.5" width="68.7" height="6.0" rx="0.9" fill="none" stroke="#222" stroke-width="0.9"/>
<clipPath id="b265_481"><rect x="265.4" y="481.5" width="68.7" height="8.9" rx="1"/></clipPath>
<rect x="265.4" y="481.5" width="68.7" height="8.9" rx="1" fill="#e0e0e0"/>
<g clip-path="url(#b265_481)">
<rect x="267.5" y="484.4" width="14.0" height="3.0" rx="0.8" fill="#0c0c0c" opacity="0.67" filter="url(#bb)"/>
<rect x="284.0" y="484.6" width="14.0" height="2.8" rx="0.8" fill="#0c0c0c" opacity="0.45" filter="url(#bb)"/>
<rect x="300.0" y="484.4" width="14.0" height="3.0" rx="0.8" fill="#0c0c0c" opacity="0.84" filter="url(#bb)"/>
<rect x="317.2" y="484.6" width="14.0" height="2.8" rx="0.8" fill="#0c0c0c" opacity="0.34" filter="url(#bb)"/>
</g>
<rect x="265.4" y="481.5" width="68.7" height="8.9" rx="0.9" fill="none" stroke="#222" stroke-width="0.9"/>
<clipPath id="b265_493"><rect x="265.4" y="493.7" width="68.7" height="8.0" rx="1"/></clipPath>
<rect x="265.4" y="493.7" width="68.7" height="8.0" rx="1" fill="#b4b4b4"/>
<g clip-path="url(#b265_493)">
<rect x="267.5" y="495.5" width="14.0" height="3.4" rx="0.8" fill="#0c0c0c" opacity="1.00" filter="url(#bbw)"/>
<rect x="284.0" y="496.5" width="14.0" height="2.4" rx="0.8" fill="#0c0c0c" opacity="0.90" filter="url(#bb)"/>
<rect x="300.0" y="496.4" width="14.0" height="2.6" rx="0.8" fill="#0c0c0c" opacity="1.00" filter="url(#bb)"/>
<rect x="317.2" y="496.5" width="14.0" height="2.4" rx="0.8" fill="#0c0c0c" opacity="0.90" filter="url(#bb)"/>
</g>
<rect x="265.4" y="493.7" width="68.7" height="8.0" rx="0.9" fill="none" stroke="#222" stroke-width="0.9"/>
<clipPath id="b265_505"><rect x="265.4" y="505.3" width="68.7" height="9.9" rx="1"/></clipPath>
<rect x="265.4" y="505.3" width="68.7" height="9.9" rx="1" fill="#e8e8e8"/>
<g clip-path="url(#b265_505)">
<rect x="267.5" y="509.1" width="14.0" height="2.4" rx="0.8" fill="#0c0c0c" opacity="1.00" filter="url(#bb)"/>
<rect x="284.0" y="509.1" width="14.0" height="2.4" rx="0.8" fill="#0c0c0c" opacity="1.00" filter="url(#bb)"/>
<rect x="300.0" y="509.1" width="14.0" height="2.4" rx="0.8" fill="#0c0c0c" opacity="1.00" filter="url(#bb)"/>
<rect x="317.2" y="508.9" width="14.0" height="2.6" rx="0.8" fill="#0c0c0c" opacity="1.00" filter="url(#bb)"/>
</g>
<rect x="265.4" y="505.3" width="68.7" height="9.9" rx="0.9" fill="none" stroke="#222" stroke-width="0.9"/>
<clipPath id="b343_371"><rect x="343.6" y="371.7" width="68.4" height="8.6" rx="1"/></clipPath>
<rect x="343.6" y="371.7" width="68.4" height="8.6" rx="1" fill="#b8b8b8"/>
<g clip-path="url(#b343_371)">
<rect x="345.3" y="374.8" width="14.0" height="2.4" rx="0.8" fill="#0c0c0c" opacity="1.00" filter="url(#bb)"/>
<rect x="362.2" y="375.0" width="14.0" height="2.0" rx="0.8" fill="#0c0c0c" opacity="0.56" filter="url(#bb)"/>
<rect x="377.8" y="374.8" width="14.0" height="2.4" rx="0.8" fill="#0c0c0c" opacity="1.00" filter="url(#bb)"/>
<rect x="395.5" y="375.0" width="14.0" height="2.0" rx="0.8" fill="#0c0c0c" opacity="0.56" filter="url(#bb)"/>
</g>
<rect x="343.6" y="371.7" width="68.4" height="8.6" rx="0.9" fill="none" stroke="#222" stroke-width="0.9"/>
<clipPath id="b343_384"><rect x="343.6" y="384.7" width="68.4" height="9.4" rx="1"/></clipPath>
<rect x="343.6" y="384.7" width="68.4" height="9.4" rx="1" fill="#e4e4e4"/>
<g clip-path="url(#b343_384)">
<rect x="345.3" y="386.6" width="14.0" height="3.6" rx="0.8" fill="#0c0c0c" opacity="0.78" filter="url(#bbw)"/>
<rect x="362.2" y="386.8" width="14.0" height="3.2" rx="0.8" fill="#0c0c0c" opacity="0.45" filter="url(#bbw)"/>
<rect x="377.8" y="386.4" width="14.0" height="4.0" rx="0.8" fill="#0c0c0c" opacity="1.00" filter="url(#bbw)"/>
<rect x="395.5" y="386.8" width="14.0" height="3.2" rx="0.8" fill="#0c0c0c" opacity="0.45" filter="url(#bbw)"/>
</g>
<rect x="343.6" y="384.7" width="68.4" height="9.4" rx="0.9" fill="none" stroke="#222" stroke-width="0.9"/>
<clipPath id="b343_397"><rect x="343.6" y="397.7" width="68.4" height="9.9" rx="1"/></clipPath>
<rect x="343.6" y="397.7" width="68.4" height="9.9" rx="1" fill="#dcdcdc"/>
<g clip-path="url(#b343_397)">
<rect x="345.3" y="400.8" width="14.0" height="3.6" rx="0.8" fill="#0c0c0c" opacity="0.95" filter="url(#bbw)"/>
<rect x="362.2" y="401.1" width="14.0" height="3.0" rx="0.8" fill="#0c0c0c" opacity="0.22" filter="url(#bb)"/>
<rect x="377.8" y="400.8" width="14.0" height="3.8" rx="0.8" fill="#0c0c0c" opacity="1.00" filter="url(#bbw)"/>
<rect x="395.5" y="401.0" width="14.0" height="3.2" rx="0.8" fill="#0c0c0c" opacity="0.67" filter="url(#bbw)"/>
</g>
<rect x="343.6" y="397.7" width="68.4" height="9.9" rx="0.9" fill="none" stroke="#222" stroke-width="0.9"/>
<clipPath id="b343_411"><rect x="343.6" y="411.5" width="68.4" height="8.6" rx="1"/></clipPath>
<rect x="343.6" y="411.5" width="68.4" height="8.6" rx="1" fill="#e8e8e8"/>
<g clip-path="url(#b343_411)">
<rect x="345.3" y="414.3" width="14.0" height="3.0" rx="0.8" fill="#0c0c0c" opacity="1.00" filter="url(#bb)"/>
<rect x="362.2" y="414.8" width="14.0" height="2.0" rx="0.8" fill="#0c0c0c" opacity="0.45" filter="url(#bb)"/>
<rect x="377.8" y="414.2" width="14.0" height="3.2" rx="0.8" fill="#0c0c0c" opacity="1.00" filter="url(#bbw)"/>
<rect x="395.5" y="414.9" width="14.0" height="1.8" rx="0.8" fill="#0c0c0c" opacity="0.17" filter="url(#bb)"/>
</g>
<rect x="343.6" y="411.5" width="68.4" height="8.6" rx="0.9" fill="none" stroke="#222" stroke-width="0.9"/>
<clipPath id="b343_425"><rect x="343.6" y="425.4" width="68.4" height="8.1" rx="1"/></clipPath>
<rect x="343.6" y="425.4" width="68.4" height="8.1" rx="1" fill="#cecece"/>
<g clip-path="url(#b343_425)">
<rect x="345.3" y="428.2" width="14.0" height="2.4" rx="0.8" fill="#0c0c0c" opacity="1.00" filter="url(#bb)"/>
<rect x="362.2" y="428.3" width="14.0" height="2.2" rx="0.8" fill="#0c0c0c" opacity="0.67" filter="url(#bb)"/>
<rect x="377.8" y="428.1" width="14.0" height="2.6" rx="0.8" fill="#0c0c0c" opacity="1.00" filter="url(#bb)"/>
<rect x="395.5" y="428.2" width="14.0" height="2.4" rx="0.8" fill="#0c0c0c" opacity="0.90" filter="url(#bb)"/>
</g>
<rect x="343.6" y="425.4" width="68.4" height="8.1" rx="0.9" fill="none" stroke="#222" stroke-width="0.9"/>
<clipPath id="b343_436"><rect x="343.6" y="436.9" width="68.4" height="8.9" rx="1"/></clipPath>
<rect x="343.6" y="436.9" width="68.4" height="8.9" rx="1" fill="#bebebe"/>
<g clip-path="url(#b343_436)">
<rect x="345.3" y="440.1" width="14.0" height="2.6" rx="0.8" fill="#0c0c0c" opacity="0.56" filter="url(#bb)"/>
<rect x="362.2" y="439.9" width="14.0" height="3.0" rx="0.8" fill="#0c0c0c" opacity="1.00" filter="url(#bb)"/>
<rect x="377.8" y="439.8" width="14.0" height="3.2" rx="0.8" fill="#0c0c0c" opacity="1.00" filter="url(#bbw)"/>
<rect x="395.5" y="440.0" width="14.0" height="2.8" rx="0.8" fill="#0c0c0c" opacity="1.00" filter="url(#bb)"/>
</g>
<rect x="343.6" y="436.9" width="68.4" height="8.9" rx="0.9" fill="none" stroke="#222" stroke-width="0.9"/>
<clipPath id="b343_450"><rect x="343.6" y="450.7" width="68.4" height="7.4" rx="1"/></clipPath>
<rect x="343.6" y="450.7" width="68.4" height="7.4" rx="1" fill="#d2d2d2"/>
<g clip-path="url(#b343_450)">
<rect x="345.3" y="452.0" width="14.0" height="2.8" rx="0.8" fill="#0c0c0c" opacity="1.00" filter="url(#bb)"/>
<rect x="362.2" y="452.9" width="14.0" height="3.0" rx="0.8" fill="#0c0c0c" opacity="0.13" filter="url(#bb)"/>
<rect x="377.8" y="452.3" width="14.0" height="3.2" rx="0.8" fill="#0c0c0c" opacity="1.00" filter="url(#bbw)"/>
<rect x="395.5" y="452.9" width="14.0" height="3.0" rx="0.8" fill="#0c0c0c" opacity="0.11" filter="url(#bb)"/>
</g>
<rect x="343.6" y="450.7" width="68.4" height="7.4" rx="0.9" fill="none" stroke="#222" stroke-width="0.9"/>
<clipPath id="b343_461"><rect x="343.6" y="461.7" width="68.4" height="6.7" rx="1"/></clipPath>
<rect x="343.6" y="461.7" width="68.4" height="6.7" rx="1" fill="#e0e0e0"/>
<g clip-path="url(#b343_461)">
<rect x="345.3" y="464.0" width="14.0" height="2.0" rx="0.8" fill="#0c0c0c" opacity="1.00" filter="url(#bb)"/>
<rect x="362.2" y="464.1" width="14.0" height="1.8" rx="0.8" fill="#0c0c0c" opacity="0.95" filter="url(#bb)"/>
<rect x="377.8" y="463.9" width="14.0" height="2.2" rx="0.8" fill="#0c0c0c" opacity="1.00" filter="url(#bb)"/>
<rect x="395.5" y="464.3" width="14.0" height="1.4" rx="0.8" fill="#0c0c0c" opacity="0.45" filter="url(#bb)"/>
</g>
<rect x="343.6" y="461.7" width="68.4" height="6.7" rx="0.9" fill="none" stroke="#222" stroke-width="0.9"/>
<clipPath id="b343_472"><rect x="343.6" y="472.5" width="68.4" height="6.7" rx="1"/></clipPath>
<rect x="343.6" y="472.5" width="68.4" height="6.7" rx="1" fill="#e2e2e2"/>
<g clip-path="url(#b343_472)">
<rect x="345.3" y="474.4" width="14.0" height="1.8" rx="0.8" fill="#0c0c0c" opacity="1.00" filter="url(#bb)"/>
<rect x="362.2" y="475.0" width="14.0" height="1.8" rx="0.8" fill="#0c0c0c" opacity="0.95" filter="url(#bb)"/>
<rect x="377.8" y="475.3" width="14.0" height="1.8" rx="0.8" fill="#0c0c0c" opacity="1.00" filter="url(#bb)"/>
<rect x="395.5" y="475.8" width="14.0" height="1.4" rx="0.8" fill="#0c0c0c" opacity="0.45" filter="url(#bb)"/>
</g>
<rect x="343.6" y="472.5" width="68.4" height="6.7" rx="0.9" fill="none" stroke="#222" stroke-width="0.9"/>
<clipPath id="b343_481"><rect x="343.6" y="481.9" width="68.4" height="8.5" rx="1"/></clipPath>
<rect x="343.6" y="481.9" width="68.4" height="8.5" rx="1" fill="#d4d4d4"/>
<g clip-path="url(#b343_481)">
<rect x="345.3" y="484.0" width="14.0" height="4.2" rx="0.8" fill="#0c0c0c" opacity="1.00" filter="url(#bbw)"/>
<rect x="362.2" y="484.4" width="14.0" height="3.4" rx="0.8" fill="#0c0c0c" opacity="0.56" filter="url(#bbw)"/>
<rect x="377.8" y="483.9" width="14.0" height="4.4" rx="0.8" fill="#0c0c0c" opacity="1.00" filter="url(#bbw)"/>
<rect x="395.5" y="484.5" width="14.0" height="3.2" rx="0.8" fill="#0c0c0c" opacity="0.45" filter="url(#bbw)"/>
</g>
<rect x="343.6" y="481.9" width="68.4" height="8.5" rx="0.9" fill="none" stroke="#222" stroke-width="0.9"/>
<clipPath id="b343_493"><rect x="343.6" y="493.7" width="68.4" height="8.1" rx="1"/></clipPath>
<rect x="343.6" y="493.7" width="68.4" height="8.1" rx="1" fill="#cacaca"/>
<g clip-path="url(#b343_493)">
<rect x="345.3" y="495.9" width="14.0" height="3.6" rx="0.8" fill="#0c0c0c" opacity="1.00" filter="url(#bbw)"/>
<rect x="362.2" y="496.1" width="14.0" height="3.2" rx="0.8" fill="#0c0c0c" opacity="0.34" filter="url(#bbw)"/>
<rect x="377.8" y="495.9" width="14.0" height="3.8" rx="0.8" fill="#0c0c0c" opacity="1.00" filter="url(#bbw)"/>
<rect x="395.5" y="496.1" width="14.0" height="3.2" rx="0.8" fill="#0c0c0c" opacity="0.78" filter="url(#bbw)"/>
</g>
<rect x="343.6" y="493.7" width="68.4" height="8.1" rx="0.9" fill="none" stroke="#222" stroke-width="0.9"/>
<clipPath id="b343_504"><rect x="343.6" y="504.9" width="68.4" height="9.7" rx="1"/></clipPath>
<rect x="343.6" y="504.9" width="68.4" height="9.7" rx="1" fill="#d0d0d0"/>
<g clip-path="url(#b343_504)">
<rect x="344.2" y="508.4" width="67.2" height="2.8" rx="0.8" fill="#0c0c0c" opacity="1.00" filter="url(#bb)"/>
</g>
<rect x="343.6" y="504.9" width="68.4" height="9.7" rx="0.9" fill="none" stroke="#222" stroke-width="0.9"/>
<path d="M416.9 377.1L423.5 374.0L421.3 377.1L423.5 380.2Z" fill="#111" stroke="#111" stroke-width="0.5" stroke-linejoin="round"/>
<line x1="420.4" y1="377.1" x2="430.4" y2="377.1" stroke="#111" stroke-width="1.35"/>
<path d="M416.9 387.8L423.5 384.7L421.3 387.8L423.5 390.9Z" fill="#111" stroke="#111" stroke-width="0.5" stroke-linejoin="round"/>
<line x1="420.4" y1="387.8" x2="430.4" y2="387.8" stroke="#111" stroke-width="1.35"/>
<path d="M416.9 402.7L423.5 399.6L421.3 402.7L423.5 405.8Z" fill="#111" stroke="#111" stroke-width="0.5" stroke-linejoin="round"/>
<line x1="420.4" y1="402.7" x2="430.4" y2="402.7" stroke="#111" stroke-width="1.35"/>
<path d="M416.9 416.1L423.5 413.0L421.3 416.1L423.5 419.2Z" fill="#111" stroke="#111" stroke-width="0.5" stroke-linejoin="round"/>
<line x1="420.4" y1="416.1" x2="430.4" y2="416.1" stroke="#111" stroke-width="1.35"/>
<path d="M416.9 430.0L423.5 426.9L421.3 430.0L423.5 433.1Z" fill="#111" stroke="#111" stroke-width="0.5" stroke-linejoin="round"/>
<line x1="420.4" y1="430.0" x2="430.4" y2="430.0" stroke="#111" stroke-width="1.35"/>
<path d="M416.9 441.4L423.5 438.3L421.3 441.4L423.5 444.5Z" fill="#111" stroke="#111" stroke-width="0.5" stroke-linejoin="round"/>
<line x1="420.4" y1="441.4" x2="430.4" y2="441.4" stroke="#111" stroke-width="1.35"/>
<path d="M416.9 453.4L423.5 450.3L421.3 453.4L423.5 456.5Z" fill="#111" stroke="#111" stroke-width="0.5" stroke-linejoin="round"/>
<line x1="420.4" y1="453.4" x2="430.4" y2="453.4" stroke="#111" stroke-width="1.35"/>
<path d="M416.9 465.2L423.5 462.1L421.3 465.2L423.5 468.3Z" fill="#111" stroke="#111" stroke-width="0.5" stroke-linejoin="round"/>
<line x1="420.4" y1="465.2" x2="430.4" y2="465.2" stroke="#111" stroke-width="1.35"/>
<path d="M416.9 475.8L423.5 472.7L421.3 475.8L423.5 478.9Z" fill="#111" stroke="#111" stroke-width="0.5" stroke-linejoin="round"/>
<line x1="420.4" y1="475.8" x2="430.4" y2="475.8" stroke="#111" stroke-width="1.35"/>
<path d="M416.9 484.9L423.5 481.8L421.3 484.9L423.5 488.0Z" fill="#111" stroke="#111" stroke-width="0.5" stroke-linejoin="round"/>
<line x1="420.4" y1="484.9" x2="430.4" y2="484.9" stroke="#111" stroke-width="1.35"/>
<path d="M416.9 498.6L423.5 495.5L421.3 498.6L423.5 501.7Z" fill="#111" stroke="#111" stroke-width="0.5" stroke-linejoin="round"/>
<line x1="420.4" y1="498.6" x2="430.4" y2="498.6" stroke="#111" stroke-width="1.35"/>
<path d="M416.9 509.5L423.5 506.4L421.3 509.5L423.5 512.6Z" fill="#111" stroke="#111" stroke-width="0.5" stroke-linejoin="round"/>
<line x1="420.4" y1="509.5" x2="430.4" y2="509.5" stroke="#111" stroke-width="1.35"/>
<text x="433.0" y="378.9" font-size="8.8" textLength="28.9" lengthAdjust="spacingAndGlyphs">TCF7L2</text>
<text x="433.0" y="391.2" font-size="8.8" textLength="27.2" lengthAdjust="spacingAndGlyphs">JMJD6</text>
<text x="433.0" y="405.1" font-size="8.8" textLength="22.8" lengthAdjust="spacingAndGlyphs">c-Myc</text>
<text x="433.0" y="418.9" font-size="8.8" textLength="23.7" lengthAdjust="spacingAndGlyphs">c-Myb</text>
<text x="433.0" y="432.6" font-size="8.8" textLength="22.8" lengthAdjust="spacingAndGlyphs">Bcl-xL</text>
<text x="433.0" y="444.6" font-size="8.8" textLength="20.2" lengthAdjust="spacingAndGlyphs">Mcl-1</text>
<text x="433.0" y="456.0" font-size="8.8" textLength="19.0" lengthAdjust="spacingAndGlyphs">PIM1</text>
<text x="433.0" y="468.5" font-size="8.8" textLength="22.3" lengthAdjust="spacingAndGlyphs">CDK4</text>
<text x="433.0" y="478.4" font-size="8.8" textLength="22.3" lengthAdjust="spacingAndGlyphs">CDK6</text>
<text x="433.0" y="488.4" font-size="8.8" textLength="27.5" lengthAdjust="spacingAndGlyphs">RUNX1</text>
<text x="433.0" y="500.2" font-size="8.8" textLength="17.7" lengthAdjust="spacingAndGlyphs">PU.1</text>
<text x="433.0" y="512.3" font-size="8.8" textLength="30.1" lengthAdjust="spacingAndGlyphs">GAPDH</text>
<text x="7.8" y="542.2" font-size="12.5" textLength="7.4" lengthAdjust="spacingAndGlyphs" font-weight="bold" fill="#000" style="stroke:#000;stroke-width:0.5px">E</text>
<polyline points="105.8,628.4 107.7,628.0 109.7,627.7 111.6,627.3 113.6,627.0 115.5,626.6 117.5,626.2 119.4,625.8 121.4,625.2 123.3,624.6 125.3,623.9 127.2,623.2 129.2,622.3 131.1,621.4 133.1,620.5 135.0,619.4 137.0,618.3 138.9,617.2 140.9,615.9 142.8,614.4 144.7,612.8 146.7,611.1 148.6,609.2 150.6,607.1 152.5,604.9 154.5,602.3 156.4,599.3 158.4,596.0 160.3,592.6 162.3,589.2 164.2,586.0 166.2,583.0 168.1,580.1 170.1,577.3 172.0,574.5 174.0,571.8 175.9,569.0 177.9,566.3 179.8,563.6 181.8,560.9 183.7,558.2" fill="none" stroke="#b5173a" stroke-width="1.15" stroke-linejoin="round"/>
<line x1="86.8" y1="631.3" x2="99.5" y2="631.3" stroke="#b5173a" stroke-width="1.15"/>
<polyline points="105.8,627.0 107.7,626.5 109.7,626.2 111.6,625.8 113.6,625.4 115.5,625.0 117.5,624.5 119.4,624.0 121.4,623.4 123.3,622.8 125.3,622.0 127.2,621.2 129.2,620.3 131.1,619.4 133.1,618.4 135.0,617.3 137.0,616.2 138.9,615.0 140.9,613.6 142.8,612.2 144.7,610.6 146.7,608.8 148.6,606.9 150.6,604.9 152.5,602.8 154.5,600.2 156.4,597.2 158.4,594.1 160.3,590.8 162.3,587.6 164.2,584.5 166.2,581.7 168.1,579.1 170.1,576.5 172.0,573.9 174.0,571.4 175.9,568.9 177.9,566.5 179.8,564.0 181.8,561.5 183.7,559.0" fill="none" stroke="#27488a" stroke-width="1.15" stroke-linejoin="round"/>
<line x1="86.8" y1="629.9" x2="99.5" y2="629.9" stroke="#27488a" stroke-width="1.15"/>
<line x1="151.7" y1="614.4" x2="151.7" y2="600.6" stroke="#b5173a" stroke-width="0.8"/>
<line x1="149.6" y1="614.4" x2="153.8" y2="614.4" stroke="#b5173a" stroke-width="0.8"/>
<line x1="149.6" y1="600.6" x2="153.8" y2="600.6" stroke="#b5173a" stroke-width="0.8"/>
<line x1="151.7" y1="608.4" x2="151.7" y2="597.6" stroke="#27488a" stroke-width="0.8"/>
<line x1="149.6" y1="608.4" x2="153.8" y2="608.4" stroke="#27488a" stroke-width="0.8"/>
<line x1="149.6" y1="597.6" x2="153.8" y2="597.6" stroke="#27488a" stroke-width="0.8"/>
<line x1="165.5" y1="592.8" x2="165.5" y2="568.0" stroke="#b5173a" stroke-width="0.8"/>
<line x1="163.4" y1="592.8" x2="167.6" y2="592.8" stroke="#b5173a" stroke-width="0.8"/>
<line x1="163.4" y1="568.0" x2="167.6" y2="568.0" stroke="#b5173a" stroke-width="0.8"/>
<line x1="165.5" y1="593.3" x2="165.5" y2="570.8" stroke="#27488a" stroke-width="0.8"/>
<line x1="163.4" y1="593.3" x2="167.6" y2="593.3" stroke="#27488a" stroke-width="0.8"/>
<line x1="163.4" y1="570.8" x2="167.6" y2="570.8" stroke="#27488a" stroke-width="0.8"/>
<line x1="183.7" y1="562.5" x2="183.7" y2="551.8" stroke="#b5173a" stroke-width="0.8"/>
<line x1="181.6" y1="562.5" x2="185.8" y2="562.5" stroke="#b5173a" stroke-width="0.8"/>
<line x1="181.6" y1="551.8" x2="185.8" y2="551.8" stroke="#b5173a" stroke-width="0.8"/>
<line x1="183.7" y1="565.1" x2="183.7" y2="555.2" stroke="#27488a" stroke-width="0.8"/>
<line x1="181.6" y1="565.1" x2="185.8" y2="565.1" stroke="#27488a" stroke-width="0.8"/>
<line x1="181.6" y1="555.2" x2="185.8" y2="555.2" stroke="#27488a" stroke-width="0.8"/>
<rect x="135.9" y="619.1" width="3.9" height="3.9" fill="#b5173a"/>
<rect x="149.7" y="605.5" width="3.9" height="3.9" fill="#b5173a"/>
<rect x="163.5" y="579.0" width="3.9" height="3.9" fill="#b5173a"/>
<rect x="181.7" y="555.3" width="3.9" height="3.9" fill="#b5173a"/>
<rect x="84.8" y="627.7" width="3.9" height="3.9" fill="#b5173a"/>
<circle cx="137.8" cy="616.7" r="2.1" fill="#27488a"/>
<circle cx="151.7" cy="603.5" r="2.1" fill="#27488a"/>
<circle cx="165.5" cy="581.5" r="2.1" fill="#27488a"/>
<circle cx="183.7" cy="559.4" r="2.1" fill="#27488a"/>
<circle cx="86.8" cy="628.4" r="2.1" fill="#27488a"/>
<line x1="86.8" y1="544.0" x2="86.8" y2="635.0" stroke="#0a0a0a" stroke-width="1.1"/>
<line x1="83.5" y1="634.5" x2="86.8" y2="634.5" stroke="#0a0a0a" stroke-width="1.0"/>
<text x="75.8" y="637.8" font-size="8.8" textLength="4.9" lengthAdjust="spacingAndGlyphs">0</text>
<line x1="83.5" y1="617.0" x2="86.8" y2="617.0" stroke="#0a0a0a" stroke-width="1.0"/>
<text x="70.7" y="620.2" font-size="8.8" textLength="10.0" lengthAdjust="spacingAndGlyphs">20</text>
<line x1="83.5" y1="599.4" x2="86.8" y2="599.4" stroke="#0a0a0a" stroke-width="1.0"/>
<text x="70.7" y="602.7" font-size="8.8" textLength="10.0" lengthAdjust="spacingAndGlyphs">40</text>
<line x1="83.5" y1="581.9" x2="86.8" y2="581.9" stroke="#0a0a0a" stroke-width="1.0"/>
<text x="70.7" y="585.1" font-size="8.8" textLength="10.0" lengthAdjust="spacingAndGlyphs">60</text>
<line x1="83.5" y1="564.3" x2="86.8" y2="564.3" stroke="#0a0a0a" stroke-width="1.0"/>
<text x="70.7" y="567.6" font-size="8.8" textLength="10.0" lengthAdjust="spacingAndGlyphs">80</text>
<line x1="83.5" y1="546.8" x2="86.8" y2="546.8" stroke="#0a0a0a" stroke-width="1.0"/>
<text x="66.3" y="550.0" font-size="8.8" textLength="14.4" lengthAdjust="spacingAndGlyphs">100</text>
<line x1="86.3" y1="634.5" x2="99.5" y2="634.5" stroke="#0a0a0a" stroke-width="1.1"/>
<line x1="99.5" y1="631.9" x2="99.5" y2="637.3" stroke="#0a0a0a" stroke-width="1.0"/>
<line x1="105.8" y1="634.5" x2="221.5" y2="634.5" stroke="#0a0a0a" stroke-width="1.1"/>
<line x1="105.8" y1="631.9" x2="105.8" y2="637.3" stroke="#0a0a0a" stroke-width="1.0"/>
<line x1="86.8" y1="634.5" x2="86.8" y2="637.3" stroke="#0a0a0a" stroke-width="1.0"/>
<line x1="105.8" y1="634.5" x2="105.8" y2="637.3" stroke="#231f20" stroke-width="0.8"/>
<line x1="119.6" y1="634.5" x2="119.6" y2="636.1" stroke="#231f20" stroke-width="0.8"/>
<line x1="127.7" y1="634.5" x2="127.7" y2="637.3" stroke="#231f20" stroke-width="0.8"/>
<line x1="133.4" y1="634.5" x2="133.4" y2="636.1" stroke="#231f20" stroke-width="0.8"/>
<line x1="137.8" y1="634.5" x2="137.8" y2="636.1" stroke="#231f20" stroke-width="0.8"/>
<line x1="141.5" y1="634.5" x2="141.5" y2="636.1" stroke="#231f20" stroke-width="0.8"/>
<line x1="144.5" y1="634.5" x2="144.5" y2="636.1" stroke="#231f20" stroke-width="0.8"/>
<line x1="147.2" y1="634.5" x2="147.2" y2="636.1" stroke="#231f20" stroke-width="0.8"/>
<line x1="149.6" y1="634.5" x2="149.6" y2="636.1" stroke="#231f20" stroke-width="0.8"/>
<line x1="151.7" y1="634.5" x2="151.7" y2="637.3" stroke="#231f20" stroke-width="0.8"/>
<line x1="165.5" y1="634.5" x2="165.5" y2="636.1" stroke="#231f20" stroke-width="0.8"/>
<line x1="173.5" y1="634.5" x2="173.5" y2="637.3" stroke="#231f20" stroke-width="0.8"/>
<line x1="179.3" y1="634.5" x2="179.3" y2="636.1" stroke="#231f20" stroke-width="0.8"/>
<line x1="183.7" y1="634.5" x2="183.7" y2="636.1" stroke="#231f20" stroke-width="0.8"/>
<line x1="187.3" y1="634.5" x2="187.3" y2="636.1" stroke="#231f20" stroke-width="0.8"/>
<line x1="190.4" y1="634.5" x2="190.4" y2="636.1" stroke="#231f20" stroke-width="0.8"/>
<line x1="193.1" y1="634.5" x2="193.1" y2="636.1" stroke="#231f20" stroke-width="0.8"/>
<line x1="195.4" y1="634.5" x2="195.4" y2="636.1" stroke="#231f20" stroke-width="0.8"/>
<line x1="197.5" y1="634.5" x2="197.5" y2="637.3" stroke="#231f20" stroke-width="0.8"/>
<line x1="211.3" y1="634.5" x2="211.3" y2="636.1" stroke="#231f20" stroke-width="0.8"/>
<line x1="219.4" y1="634.5" x2="219.4" y2="637.3" stroke="#231f20" stroke-width="0.8"/>
<text x="84.4" y="649.2" font-size="8.8" textLength="4.8" lengthAdjust="spacingAndGlyphs">0</text>
<text x="103.4" y="649.2" font-size="8.8" textLength="4.8" lengthAdjust="spacingAndGlyphs">1</text>
<text x="125.3" y="649.2" font-size="8.8" textLength="4.8" lengthAdjust="spacingAndGlyphs">3</text>
<text x="146.8" y="649.2" font-size="8.8" textLength="9.7" lengthAdjust="spacingAndGlyphs">10</text>
<text x="168.7" y="649.2" font-size="8.8" textLength="9.7" lengthAdjust="spacingAndGlyphs">30</text>
<text x="190.5" y="649.2" font-size="8.8" textLength="14.0" lengthAdjust="spacingAndGlyphs">100</text>
<text x="212.4" y="649.2" font-size="8.8" textLength="14.0" lengthAdjust="spacingAndGlyphs">300</text>
<text x="116.9" y="662.9" font-size="10.2" textLength="75.4" lengthAdjust="spacingAndGlyphs">nM, ARV-825, 48 hrs</text>
<text x="0" y="0" font-size="10.2" textLength="43.8" lengthAdjust="spacingAndGlyphs" transform="translate(60.0 611.3) rotate(-90)">% apoptosis</text>
<line x1="93.4" y1="548.0" x2="103.0" y2="548.0" stroke="#b5173a" stroke-width="1.15"/>
<rect x="96.2" y="546.0" width="3.9" height="3.9" fill="#b5173a"/>
<text x="106.8" y="550.5" font-size="8.0" textLength="54.8" lengthAdjust="spacingAndGlyphs">SET-2-OTX P/R</text>
<line x1="93.4" y1="560.0" x2="103.0" y2="560.0" stroke="#27488a" stroke-width="1.15"/>
<circle cx="98.2" cy="560.0" r="2.1" fill="#27488a"/>
<text x="106.8" y="562.5" font-size="8.0" textLength="20.4" lengthAdjust="spacingAndGlyphs">SET-2</text>
<polyline points="297.3,621.8 300.0,621.2 302.7,620.6 305.4,620.0 308.1,619.5 310.8,618.9 313.5,618.3 316.2,617.6 318.9,617.0 321.6,616.3 324.3,615.5 327.0,614.7 329.7,613.8 332.4,612.9 335.1,611.9 337.8,610.9 340.4,609.9 343.1,608.7 345.8,607.5 348.5,606.2 351.2,604.9 353.9,603.3 356.6,601.7 359.3,599.9 362.0,598.0 364.7,595.9 367.4,593.8 370.1,591.5 372.8,589.2 375.5,586.7 378.2,584.0 380.9,581.0 383.6,577.9 386.3,574.7 389.0,571.4 391.7,568.0 394.4,564.6 397.1,561.2 399.8,558.1 402.5,555.1 405.2,552.1" fill="none" stroke="#b5173a" stroke-width="1.15" stroke-linejoin="round"/>
<line x1="278.5" y1="626.6" x2="291.3" y2="626.6" stroke="#b5173a" stroke-width="1.15"/>
<polyline points="297.3,624.9 300.0,624.2 302.7,623.5 305.4,622.8 308.1,622.2 310.8,621.5 313.5,620.8 316.2,620.0 318.9,619.2 321.6,618.4 324.3,617.4 327.0,616.3 329.7,615.2 332.4,614.1 335.1,613.0 337.8,611.9 340.4,610.8 343.1,609.6 345.8,608.3 348.5,606.9 351.2,605.4 353.9,603.7 356.6,601.8 359.3,599.7 362.0,597.4 364.7,595.0 367.4,592.5 370.1,589.9 372.8,587.2 375.5,584.3 378.2,581.2 380.9,577.7 383.6,574.1 386.3,570.5 389.0,567.1 391.7,563.5 394.4,560.0 397.1,556.8 399.8,554.0 402.5,551.5 405.2,549.0" fill="none" stroke="#27488a" stroke-width="1.15" stroke-linejoin="round"/>
<line x1="278.5" y1="631.0" x2="291.3" y2="631.0" stroke="#27488a" stroke-width="1.15"/>
<line x1="320.4" y1="617.9" x2="320.4" y2="610.9" stroke="#b5173a" stroke-width="0.8"/>
<line x1="318.6" y1="617.9" x2="322.2" y2="617.9" stroke="#b5173a" stroke-width="0.8"/>
<line x1="318.6" y1="610.9" x2="322.2" y2="610.9" stroke="#b5173a" stroke-width="0.8"/>
<line x1="350.8" y1="612.2" x2="350.8" y2="605.6" stroke="#27488a" stroke-width="0.8"/>
<line x1="349.0" y1="612.2" x2="352.6" y2="612.2" stroke="#27488a" stroke-width="0.8"/>
<line x1="349.0" y1="605.6" x2="352.6" y2="605.6" stroke="#27488a" stroke-width="0.8"/>
<line x1="350.8" y1="603.9" x2="350.8" y2="597.8" stroke="#b5173a" stroke-width="0.8"/>
<line x1="349.0" y1="603.9" x2="352.6" y2="603.9" stroke="#b5173a" stroke-width="0.8"/>
<line x1="349.0" y1="597.8" x2="352.6" y2="597.8" stroke="#b5173a" stroke-width="0.8"/>
<line x1="387.4" y1="567.2" x2="387.4" y2="561.9" stroke="#27488a" stroke-width="0.8"/>
<line x1="385.6" y1="567.2" x2="389.2" y2="567.2" stroke="#27488a" stroke-width="0.8"/>
<line x1="385.6" y1="561.9" x2="389.2" y2="561.9" stroke="#27488a" stroke-width="0.8"/>
<rect x="318.4" y="612.4" width="3.9" height="3.9" fill="#b5173a"/>
<rect x="348.9" y="598.8" width="3.9" height="3.9" fill="#b5173a"/>
<rect x="371.9" y="586.8" width="3.9" height="3.9" fill="#b5173a"/>
<rect x="385.4" y="573.1" width="3.9" height="3.9" fill="#b5173a"/>
<rect x="395.0" y="557.1" width="3.9" height="3.9" fill="#b5173a"/>
<rect x="402.4" y="550.0" width="3.9" height="3.9" fill="#b5173a"/>
<rect x="276.6" y="626.4" width="3.9" height="3.9" fill="#b5173a"/>
<circle cx="320.4" cy="619.2" r="2.1" fill="#27488a"/>
<circle cx="350.8" cy="608.9" r="2.1" fill="#27488a"/>
<circle cx="373.9" cy="584.7" r="2.1" fill="#27488a"/>
<circle cx="387.4" cy="564.5" r="2.1" fill="#27488a"/>
<circle cx="397.0" cy="553.9" r="2.1" fill="#27488a"/>
<circle cx="404.4" cy="550.7" r="2.1" fill="#27488a"/>
<circle cx="278.5" cy="629.3" r="2.1" fill="#27488a"/>
<line x1="278.5" y1="544.2" x2="278.5" y2="635.0" stroke="#0a0a0a" stroke-width="1.1"/>
<line x1="275.2" y1="634.5" x2="278.5" y2="634.5" stroke="#0a0a0a" stroke-width="1.0"/>
<text x="267.5" y="637.8" font-size="8.8" textLength="4.9" lengthAdjust="spacingAndGlyphs">0</text>
<line x1="275.2" y1="617.0" x2="278.5" y2="617.0" stroke="#0a0a0a" stroke-width="1.0"/>
<text x="262.4" y="620.3" font-size="8.8" textLength="10.0" lengthAdjust="spacingAndGlyphs">20</text>
<line x1="275.2" y1="599.5" x2="278.5" y2="599.5" stroke="#0a0a0a" stroke-width="1.0"/>
<text x="262.4" y="602.8" font-size="8.8" textLength="10.0" lengthAdjust="spacingAndGlyphs">40</text>
<line x1="275.2" y1="582.0" x2="278.5" y2="582.0" stroke="#0a0a0a" stroke-width="1.0"/>
<text x="262.4" y="585.3" font-size="8.8" textLength="10.0" lengthAdjust="spacingAndGlyphs">60</text>
<line x1="275.2" y1="564.5" x2="278.5" y2="564.5" stroke="#0a0a0a" stroke-width="1.0"/>
<text x="262.4" y="567.8" font-size="8.8" textLength="10.0" lengthAdjust="spacingAndGlyphs">80</text>
<line x1="275.2" y1="547.0" x2="278.5" y2="547.0" stroke="#0a0a0a" stroke-width="1.0"/>
<text x="258.0" y="550.3" font-size="8.8" textLength="14.4" lengthAdjust="spacingAndGlyphs">100</text>
<line x1="278.1" y1="634.5" x2="291.3" y2="634.5" stroke="#0a0a0a" stroke-width="1.1"/>
<line x1="291.3" y1="631.9" x2="291.3" y2="637.3" stroke="#0a0a0a" stroke-width="1.0"/>
<line x1="297.3" y1="634.5" x2="413.0" y2="634.5" stroke="#0a0a0a" stroke-width="1.1"/>
<line x1="297.3" y1="631.9" x2="297.3" y2="637.3" stroke="#0a0a0a" stroke-width="1.0"/>
<line x1="278.5" y1="634.5" x2="278.5" y2="637.3" stroke="#0a0a0a" stroke-width="1.0"/>
<line x1="297.3" y1="634.5" x2="297.3" y2="637.3" stroke="#231f20" stroke-width="0.8"/>
<line x1="320.4" y1="634.5" x2="320.4" y2="636.1" stroke="#231f20" stroke-width="0.8"/>
<line x1="333.8" y1="634.5" x2="333.8" y2="637.3" stroke="#231f20" stroke-width="0.8"/>
<line x1="343.4" y1="634.5" x2="343.4" y2="636.1" stroke="#231f20" stroke-width="0.8"/>
<line x1="350.8" y1="634.5" x2="350.8" y2="636.1" stroke="#231f20" stroke-width="0.8"/>
<line x1="356.9" y1="634.5" x2="356.9" y2="636.1" stroke="#231f20" stroke-width="0.8"/>
<line x1="362.0" y1="634.5" x2="362.0" y2="636.1" stroke="#231f20" stroke-width="0.8"/>
<line x1="366.5" y1="634.5" x2="366.5" y2="636.1" stroke="#231f20" stroke-width="0.8"/>
<line x1="370.4" y1="634.5" x2="370.4" y2="636.1" stroke="#231f20" stroke-width="0.8"/>
<line x1="373.9" y1="634.5" x2="373.9" y2="637.3" stroke="#231f20" stroke-width="0.8"/>
<line x1="397.0" y1="634.5" x2="397.0" y2="636.1" stroke="#231f20" stroke-width="0.8"/>
<line x1="410.4" y1="634.5" x2="410.4" y2="637.3" stroke="#231f20" stroke-width="0.8"/>
<text x="276.1" y="649.2" font-size="8.8" textLength="4.8" lengthAdjust="spacingAndGlyphs">0</text>
<text x="292.4" y="649.2" font-size="8.8" textLength="9.7" lengthAdjust="spacingAndGlyphs">10</text>
<text x="329.0" y="649.2" font-size="8.8" textLength="9.7" lengthAdjust="spacingAndGlyphs">30</text>
<text x="366.9" y="649.2" font-size="8.8" textLength="14.0" lengthAdjust="spacingAndGlyphs">100</text>
<text x="403.4" y="649.2" font-size="8.8" textLength="14.0" lengthAdjust="spacingAndGlyphs">300</text>
<text x="308.3" y="662.7" font-size="10.2" textLength="75.4" lengthAdjust="spacingAndGlyphs">nM, ARV-825, 48 hrs</text>
<text x="0" y="0" font-size="10.2" textLength="43.8" lengthAdjust="spacingAndGlyphs" transform="translate(251.4 611.3) rotate(-90)">% apoptosis</text>
<line x1="285.1" y1="548.7" x2="294.7" y2="548.7" stroke="#b5173a" stroke-width="1.15"/>
<rect x="287.9" y="546.8" width="3.9" height="3.9" fill="#b5173a"/>
<text x="298.2" y="551.2" font-size="8.0" textLength="48.3" lengthAdjust="spacingAndGlyphs">HEL-OTX P/R</text>
<line x1="285.1" y1="560.8" x2="294.7" y2="560.8" stroke="#27488a" stroke-width="1.15"/>
<circle cx="289.9" cy="560.8" r="2.1" fill="#27488a"/>
<text x="298.2" y="563.3" font-size="8.0" textLength="36.4" lengthAdjust="spacingAndGlyphs">HEL92.1.7</text>
</svg>
</body></html>
